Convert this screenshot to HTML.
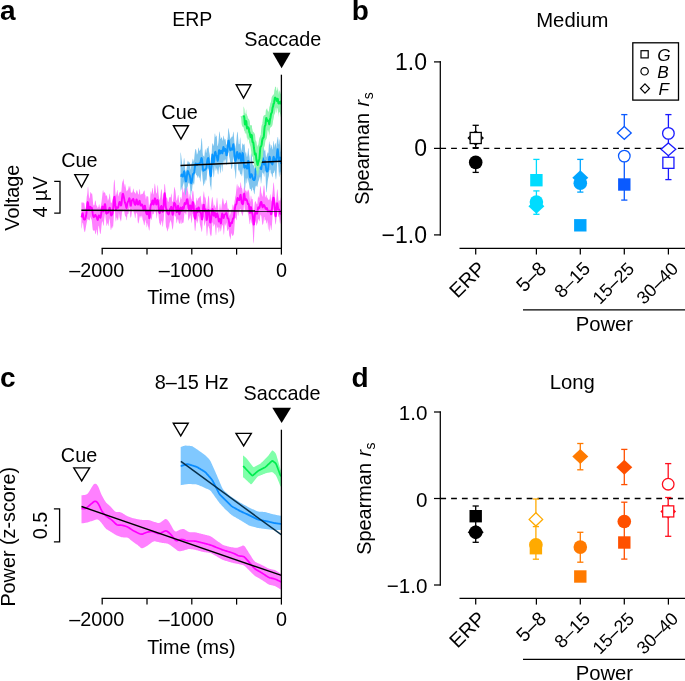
<!DOCTYPE html>
<html><head><meta charset="utf-8"><style>
html,body{margin:0;padding:0;background:#fff;}
svg{display:block;font-family:"Liberation Sans", sans-serif;will-change:transform;}
</style></head><body>
<svg width="685" height="681" viewBox="0 0 685 681">
<rect width="685" height="681" fill="#fff"/>
<text x="0" y="19.6" font-size="28" text-anchor="start" font-weight="bold" fill="#000">a</text>
<text x="192.2" y="26.1" font-size="19.5" text-anchor="middle" fill="#000">ERP</text>
<text x="282.7" y="46.2" font-size="19.8" text-anchor="middle" fill="#000">Saccade</text>
<polygon points="272.60,52.80 290.60,52.80 281.60,68.20" fill="#000" stroke="none" stroke-width="1.2"/>
<text x="79.4" y="167.4" font-size="19.8" text-anchor="middle" fill="#000">Cue</text>
<text x="179.5" y="119.1" font-size="19.8" text-anchor="middle" fill="#000">Cue</text>
<polygon points="81.40,202.07 81.73,202.60 82.07,203.35 82.40,203.05 82.74,201.99 83.07,201.78 83.41,202.79 83.74,203.34 84.08,202.88 84.41,203.51 84.74,206.39 85.08,209.16 85.41,208.61 85.75,207.48 86.08,204.66 86.42,200.71 86.75,196.65 87.09,194.94 87.42,192.56 87.75,187.51 88.09,186.60 88.42,189.57 88.76,194.20 89.09,197.75 89.43,198.72 89.76,197.12 90.10,194.19 90.43,192.05 90.76,192.12 91.10,193.41 91.43,193.85 91.77,193.28 92.10,193.57 92.44,195.97 92.77,199.96 93.11,203.83 93.44,205.49 93.77,205.46 94.11,204.71 94.44,205.43 94.78,202.37 95.11,200.46 95.45,200.45 95.78,201.64 96.12,203.90 96.45,206.32 96.78,205.12 97.12,205.96 97.45,207.51 97.79,207.99 98.12,207.32 98.46,206.98 98.79,204.88 99.13,203.92 99.46,205.08 99.79,207.10 100.13,208.55 100.46,208.30 100.80,206.41 101.13,204.03 101.47,201.90 101.80,199.49 102.14,196.85 102.47,193.80 102.80,190.86 103.14,190.04 103.47,191.63 103.81,193.13 104.14,192.75 104.48,191.87 104.81,192.42 105.15,193.03 105.48,194.07 105.81,196.03 106.15,196.32 106.48,195.27 106.82,195.09 107.15,196.59 107.49,198.81 107.82,200.71 108.16,200.59 108.49,199.16 108.82,198.61 109.16,196.65 109.49,194.09 109.83,193.60 110.16,196.17 110.50,200.12 110.83,202.67 111.17,203.15 111.50,202.82 111.83,202.26 112.17,200.88 112.50,199.04 112.84,198.48 113.17,196.48 113.51,188.25 113.84,182.62 114.18,179.88 114.51,179.59 114.84,182.68 115.18,188.56 115.51,193.68 115.85,195.43 116.18,194.68 116.52,193.27 116.85,191.63 117.19,190.07 117.52,190.22 117.85,192.94 118.19,196.44 118.52,195.75 118.86,193.95 119.19,193.22 119.53,191.69 119.86,192.73 120.20,191.67 120.53,191.50 120.86,192.30 121.20,192.12 121.53,189.64 121.87,185.44 122.20,181.53 122.54,180.60 122.87,183.25 123.21,179.66 123.54,178.62 123.87,181.31 124.21,187.47 124.54,184.74 124.88,183.60 125.21,184.58 125.55,186.36 125.88,188.24 126.22,190.07 126.55,191.30 126.88,191.32 127.22,190.65 127.55,190.10 127.89,189.83 128.22,189.16 128.56,187.42 128.89,185.64 129.23,186.63 129.56,188.63 129.89,185.63 130.23,186.16 130.56,189.49 130.90,192.59 131.23,193.33 131.57,192.46 131.90,192.10 132.24,192.77 132.57,191.79 132.91,190.20 133.24,188.72 133.57,188.58 133.91,190.98 134.24,193.07 134.58,191.71 134.91,192.03 135.25,193.37 135.58,193.81 135.92,193.13 136.25,191.47 136.58,190.51 136.92,189.91 137.25,190.66 137.59,191.92 137.92,193.16 138.26,194.31 138.59,194.68 138.93,193.17 139.26,190.64 139.59,188.70 139.93,189.76 140.26,193.92 140.60,195.51 140.93,193.81 141.27,193.63 141.60,194.61 141.94,194.32 142.27,193.91 142.60,193.73 142.94,193.28 143.27,192.45 143.61,191.57 143.94,190.73 144.28,190.19 144.61,191.31 144.95,194.96 145.28,194.51 145.61,197.11 145.95,199.83 146.28,197.27 146.62,196.05 146.95,196.21 147.29,196.62 147.62,196.40 147.96,195.91 148.29,197.18 148.62,201.37 148.96,206.80 149.29,207.81 149.63,206.55 149.96,202.09 150.30,196.12 150.63,191.88 150.97,191.16 151.30,193.05 151.63,194.29 151.97,190.47 152.30,187.94 152.64,188.12 152.97,190.66 153.31,193.80 153.64,194.81 153.98,191.89 154.31,186.89 154.64,183.69 154.98,183.81 155.31,185.91 155.65,188.73 155.98,191.63 156.32,193.49 156.65,193.47 156.99,192.03 157.32,187.63 157.65,184.63 157.99,185.93 158.32,191.41 158.66,195.05 158.99,197.24 159.33,199.61 159.66,200.11 160.00,198.86 160.33,196.68 160.66,193.82 161.00,190.88 161.33,189.04 161.67,189.62 162.00,192.90 162.34,197.14 162.67,199.63 163.01,199.20 163.34,196.89 163.67,194.11 164.01,190.78 164.34,184.96 164.68,183.75 165.01,184.53 165.35,188.36 165.68,192.14 166.02,194.62 166.35,197.57 166.68,197.82 167.02,197.63 167.35,199.04 167.69,200.66 168.02,201.89 168.36,202.05 168.69,200.40 169.03,198.00 169.36,197.00 169.69,197.42 170.03,197.56 170.36,197.11 170.70,197.46 171.03,195.07 171.37,192.95 171.70,195.03 172.04,200.65 172.37,202.03 172.70,201.67 173.04,200.38 173.37,197.89 173.71,193.79 174.04,189.17 174.38,186.75 174.71,187.42 175.05,189.21 175.38,190.87 175.71,193.50 176.05,197.30 176.38,200.15 176.72,200.83 177.05,200.12 177.39,198.61 177.72,196.63 178.06,194.85 178.39,195.34 178.72,197.99 179.06,201.17 179.39,203.10 179.73,202.63 180.06,200.34 180.40,198.08 180.73,196.94 181.07,197.21 181.40,199.27 181.73,198.98 182.07,193.15 182.40,187.49 182.74,186.12 183.07,188.94 183.41,192.14 183.74,192.67 184.08,190.72 184.41,188.66 184.74,187.98 185.08,188.08 185.41,188.09 185.75,188.17 186.08,188.57 186.42,188.38 186.75,187.09 187.09,186.22 187.42,187.81 187.75,190.76 188.09,191.69 188.42,194.47 188.76,198.61 189.09,197.81 189.43,195.49 189.76,193.82 190.10,193.77 190.43,195.26 190.76,196.11 191.10,198.61 191.43,199.96 191.77,198.36 192.10,194.82 192.44,191.56 192.77,190.22 193.11,190.76 193.44,192.30 193.77,195.44 194.11,200.93 194.44,202.58 194.78,203.83 195.11,205.20 195.45,205.45 195.78,203.98 196.12,201.32 196.45,198.67 196.78,197.45 197.12,198.81 197.45,200.68 197.79,200.71 198.12,198.86 198.46,197.73 198.79,198.28 199.13,197.65 199.46,197.33 199.79,196.79 200.13,195.99 200.46,195.80 200.80,197.36 201.13,200.49 201.47,203.37 201.80,204.55 202.14,204.41 202.47,204.05 202.80,201.72 203.14,196.01 203.47,193.69 203.81,191.00 204.14,192.45 204.48,195.75 204.81,197.51 205.15,197.30 205.48,197.76 205.81,199.64 206.15,201.74 206.48,205.84 206.82,208.63 207.15,207.60 207.49,203.63 207.82,199.72 208.16,197.28 208.49,195.79 208.82,195.66 209.16,198.64 209.49,204.96 209.83,209.25 210.16,209.29 210.50,208.52 210.83,206.76 211.17,204.44 211.50,201.56 211.83,198.45 212.17,196.68 212.50,197.58 212.84,199.84 213.17,202.24 213.51,205.01 213.84,206.50 214.18,205.92 214.51,204.46 214.84,204.79 215.18,206.40 215.51,208.01 215.85,207.63 216.18,204.92 216.52,200.76 216.85,197.67 217.19,197.79 217.52,201.04 217.85,205.25 218.19,208.58 218.52,211.01 218.86,212.32 219.19,210.49 219.53,206.49 219.86,203.62 220.20,204.15 220.53,207.16 220.86,209.68 221.20,209.49 221.53,206.96 221.87,203.75 222.20,200.80 222.54,198.67 222.87,197.94 223.21,198.79 223.54,200.84 223.87,203.32 224.21,204.75 224.54,204.46 224.88,203.42 225.21,202.75 225.55,202.80 225.88,203.59 226.22,201.61 226.55,199.71 226.88,200.43 227.22,203.91 227.55,207.65 227.89,208.97 228.22,208.85 228.56,208.39 228.89,209.27 229.23,211.82 229.56,215.37 229.89,215.85 230.23,214.36 230.56,213.02 230.90,211.10 231.23,209.29 231.57,209.03 231.90,210.89 232.24,209.02 232.57,204.51 232.91,204.40 233.24,207.80 233.57,205.69 233.91,204.94 234.24,203.46 234.58,201.04 234.91,199.43 235.25,196.66 235.58,196.00 235.92,193.61 236.25,189.99 236.58,186.79 236.92,184.37 237.25,183.93 237.59,186.23 237.92,189.57 238.26,186.64 238.59,185.34 238.93,186.29 239.26,187.78 239.59,187.81 239.93,187.12 240.26,184.89 240.60,181.98 240.93,182.91 241.27,185.95 241.60,187.88 241.94,188.09 242.27,189.00 242.60,191.74 242.94,194.25 243.27,194.12 243.61,190.10 243.94,187.29 244.28,185.28 244.61,185.74 244.95,188.15 245.28,190.36 245.61,190.91 245.95,190.46 246.28,190.50 246.62,191.79 246.95,192.81 247.29,191.80 247.62,190.87 247.96,189.72 248.29,189.54 248.62,190.39 248.96,191.32 249.29,193.37 249.63,197.36 249.96,200.96 250.30,201.74 250.63,197.02 250.97,195.28 251.30,196.81 251.63,199.04 251.97,199.55 252.30,198.75 252.64,199.10 252.97,202.29 253.31,207.80 253.64,213.29 253.98,211.15 254.31,207.22 254.64,203.60 254.98,201.55 255.31,201.09 255.65,201.49 255.98,202.23 256.32,203.19 256.65,204.02 256.99,204.43 257.32,204.05 257.65,200.19 257.99,197.01 258.32,196.12 258.66,197.19 258.99,198.34 259.33,197.22 259.66,193.05 260.00,188.19 260.33,185.72 260.66,186.71 261.00,189.92 261.33,192.77 261.67,193.78 262.00,195.13 262.34,197.08 262.67,195.18 263.01,192.45 263.34,189.45 263.67,186.36 264.01,184.91 264.34,186.44 264.68,189.89 265.01,193.66 265.35,197.41 265.68,196.89 266.02,195.43 266.35,194.83 266.68,195.64 267.02,198.43 267.35,197.21 267.69,197.68 268.02,199.43 268.36,200.29 268.69,199.58 269.03,198.95 269.36,200.05 269.69,198.40 270.03,194.70 270.36,193.97 270.70,197.15 271.03,200.87 271.37,201.38 271.70,198.92 272.04,196.23 272.37,194.07 272.70,191.07 273.04,186.85 273.37,183.08 273.71,182.14 274.04,184.87 274.38,189.44 274.71,193.85 275.05,198.09 275.38,201.85 275.71,203.50 276.05,202.13 276.38,198.32 276.72,193.55 277.05,189.86 277.39,189.22 277.72,191.80 278.06,195.77 278.39,199.57 278.72,201.74 279.06,199.93 279.39,200.12 279.73,201.36 280.06,201.47 280.40,199.95 280.73,198.04 281.07,196.90 281.40,196.61 281.40,219.46 281.07,219.35 280.73,220.19 280.40,223.16 280.06,224.03 279.73,222.11 279.39,218.75 279.06,216.76 278.72,217.02 278.39,216.46 278.06,215.58 277.72,212.80 277.39,211.66 277.05,212.02 276.72,214.56 276.38,218.76 276.05,222.53 275.71,224.43 275.38,224.16 275.05,221.57 274.71,217.36 274.38,216.40 274.04,214.90 273.71,211.52 273.37,208.35 273.04,212.13 272.70,213.48 272.37,218.52 272.04,223.88 271.70,227.72 271.37,230.21 271.03,230.00 270.70,225.89 270.36,224.43 270.03,229.49 269.69,232.61 269.36,229.86 269.03,222.02 268.69,225.56 268.36,230.12 268.02,229.08 267.69,222.97 267.35,219.74 267.02,222.60 266.68,223.73 266.35,223.09 266.02,221.08 265.68,219.46 265.35,219.71 265.01,220.88 264.68,220.39 264.34,217.07 264.01,217.00 263.67,220.88 263.34,223.17 263.01,224.16 262.67,224.85 262.34,224.66 262.00,222.26 261.67,218.71 261.33,216.33 261.00,215.16 260.66,214.41 260.33,215.43 260.00,217.86 259.66,220.77 259.33,221.57 258.99,220.35 258.66,219.05 258.32,219.33 257.99,221.22 257.65,223.19 257.32,223.46 256.99,224.58 256.65,226.02 256.32,225.03 255.98,223.06 255.65,221.43 255.31,220.43 254.98,223.76 254.64,226.83 254.31,231.74 253.98,239.65 253.64,243.82 253.31,242.04 252.97,235.50 252.64,228.43 252.30,224.45 251.97,223.49 251.63,223.10 251.30,221.64 250.97,219.70 250.63,219.01 250.30,221.55 249.96,224.37 249.63,223.95 249.29,221.42 248.96,218.63 248.62,216.34 248.29,214.72 247.96,213.62 247.62,211.86 247.29,210.63 246.95,210.28 246.62,210.40 246.28,210.81 245.95,211.01 245.61,210.03 245.28,209.83 244.95,210.72 244.61,207.26 244.28,202.94 243.94,205.53 243.61,209.34 243.27,212.76 242.94,214.21 242.60,215.85 242.27,215.95 241.94,214.47 241.60,213.39 241.27,212.46 240.93,210.01 240.60,208.46 240.26,209.13 239.93,210.39 239.59,210.43 239.26,208.99 238.93,210.64 238.59,213.68 238.26,216.07 237.92,215.76 237.59,212.01 237.25,210.19 236.92,217.34 236.58,220.52 236.25,219.95 235.92,218.45 235.58,217.77 235.25,217.65 234.91,220.24 234.58,224.89 234.24,229.83 233.91,233.41 233.57,234.79 233.24,235.22 232.91,235.82 232.57,236.12 232.24,235.58 231.90,234.38 231.57,233.22 231.23,233.84 230.90,236.92 230.56,239.78 230.23,239.09 229.89,235.59 229.56,237.74 229.23,235.13 228.89,230.96 228.56,228.89 228.22,229.13 227.89,230.31 227.55,231.35 227.22,230.73 226.88,227.72 226.55,224.16 226.22,222.61 225.88,223.63 225.55,225.43 225.21,225.66 224.88,223.18 224.54,226.82 224.21,232.57 223.87,235.26 223.54,233.21 223.21,228.98 222.87,226.05 222.54,225.00 222.20,225.06 221.87,226.15 221.53,228.06 221.20,230.03 220.86,231.62 220.53,231.18 220.20,228.81 219.86,227.10 219.53,228.41 219.19,231.54 218.86,232.97 218.52,230.97 218.19,226.82 217.85,227.35 217.52,228.19 217.19,227.49 216.85,224.44 216.52,229.55 216.18,234.83 215.85,235.24 215.51,231.64 215.18,227.26 214.84,224.72 214.51,224.17 214.18,224.25 213.84,226.49 213.51,225.89 213.17,223.77 212.84,222.57 212.50,222.56 212.17,225.56 211.83,230.86 211.50,235.29 211.17,236.26 210.83,233.96 210.50,235.21 210.16,237.11 209.83,232.61 209.49,228.82 209.16,228.34 208.82,227.18 208.49,225.89 208.16,225.74 207.82,227.96 207.49,232.13 207.15,235.83 206.82,235.99 206.48,231.49 206.15,226.01 205.81,222.23 205.48,220.45 205.15,222.97 204.81,225.45 204.48,225.92 204.14,223.79 203.81,220.16 203.47,217.23 203.14,216.99 202.80,219.97 202.47,225.97 202.14,230.57 201.80,232.18 201.47,231.06 201.13,229.25 200.80,227.81 200.46,226.56 200.13,225.14 199.79,223.10 199.46,220.29 199.13,217.59 198.79,215.80 198.46,216.66 198.12,220.36 197.79,223.51 197.45,222.49 197.12,220.72 196.78,220.61 196.45,220.84 196.12,223.17 195.78,226.89 195.45,229.99 195.11,231.33 194.78,230.16 194.44,226.36 194.11,221.54 193.77,218.06 193.44,216.91 193.11,216.31 192.77,213.88 192.44,213.73 192.10,220.49 191.77,223.62 191.43,222.03 191.10,219.76 190.76,218.36 190.43,215.63 190.10,215.20 189.76,217.33 189.43,218.70 189.09,218.63 188.76,220.76 188.42,220.35 188.09,217.54 187.75,213.20 187.42,209.23 187.09,209.08 186.75,210.33 186.42,213.56 186.08,215.04 185.75,214.61 185.41,213.35 185.08,213.21 184.74,212.70 184.41,212.94 184.08,216.61 183.74,220.61 183.41,222.70 183.07,222.83 182.74,222.51 182.40,222.74 182.07,223.58 181.73,224.28 181.40,222.98 181.07,218.84 180.73,220.92 180.40,223.44 180.06,223.59 179.73,222.94 179.39,224.12 179.06,223.72 178.72,222.21 178.39,220.57 178.06,219.34 177.72,218.99 177.39,219.89 177.05,221.99 176.72,223.50 176.38,221.92 176.05,218.19 175.71,215.95 175.38,216.28 175.05,216.79 174.71,215.52 174.38,213.26 174.04,216.84 173.71,221.27 173.37,225.00 173.04,227.73 172.70,229.57 172.37,229.59 172.04,227.53 171.70,224.85 171.37,222.83 171.03,221.54 170.70,220.36 170.36,220.52 170.03,222.59 169.69,222.58 169.36,224.92 169.03,229.05 168.69,229.35 168.36,225.96 168.02,228.96 167.69,231.13 167.35,231.44 167.02,230.03 166.68,228.31 166.35,227.67 166.02,226.81 165.68,222.53 165.35,214.42 165.01,207.55 164.68,207.39 164.34,210.54 164.01,215.59 163.67,219.97 163.34,221.73 163.01,225.48 162.67,227.32 162.34,225.44 162.00,220.84 161.67,220.89 161.33,222.38 161.00,223.62 160.66,224.73 160.33,225.49 160.00,224.81 159.66,223.24 159.33,223.00 158.99,219.97 158.66,217.17 158.32,213.71 157.99,210.45 157.65,210.57 157.32,213.64 156.99,217.53 156.65,219.07 156.32,216.09 155.98,213.39 155.65,212.48 155.31,208.20 154.98,210.06 154.64,211.23 154.31,211.42 153.98,212.63 153.64,214.27 153.31,214.31 152.97,213.87 152.64,213.87 152.30,215.33 151.97,218.25 151.63,220.28 151.30,219.45 150.97,217.13 150.63,216.71 150.30,219.84 149.96,224.79 149.63,228.89 149.29,230.79 148.96,230.33 148.62,228.36 148.29,226.76 147.96,226.26 147.62,224.86 147.29,223.02 146.95,227.60 146.62,227.09 146.28,222.95 145.95,222.84 145.61,220.84 145.28,219.59 144.95,222.08 144.61,224.38 144.28,225.44 143.94,224.79 143.61,222.80 143.27,221.10 142.94,220.49 142.60,219.50 142.27,217.28 141.94,215.54 141.60,215.91 141.27,217.53 140.93,218.26 140.60,217.06 140.26,215.92 139.93,216.10 139.59,217.29 139.26,219.38 138.93,221.43 138.59,222.90 138.26,223.55 137.92,223.05 137.59,220.25 137.25,214.51 136.92,213.82 136.58,213.34 136.25,212.38 135.92,213.79 135.58,216.97 135.25,218.53 134.91,217.43 134.58,214.99 134.24,213.55 133.91,213.32 133.57,211.40 133.24,209.35 132.91,208.80 132.57,209.38 132.24,209.89 131.90,212.00 131.57,214.43 131.23,216.39 130.90,217.55 130.56,217.68 130.23,215.95 129.89,211.93 129.56,207.87 129.23,207.49 128.89,209.94 128.56,213.08 128.22,214.22 127.89,213.77 127.55,213.96 127.22,216.37 126.88,219.66 126.55,220.48 126.22,217.24 125.88,216.18 125.55,216.68 125.21,216.03 124.88,214.97 124.54,213.33 124.21,211.08 123.87,209.52 123.54,209.63 123.21,210.52 122.87,210.94 122.54,211.09 122.20,211.87 121.87,213.86 121.53,217.10 121.20,220.42 120.86,221.67 120.53,220.55 120.20,219.21 119.86,218.50 119.53,216.93 119.19,214.21 118.86,213.12 118.52,217.09 118.19,219.46 117.85,220.41 117.52,220.06 117.19,218.85 116.85,217.57 116.52,217.71 116.18,220.48 115.85,221.79 115.51,219.39 115.18,214.27 114.84,209.62 114.51,208.02 114.18,210.17 113.84,215.26 113.51,221.41 113.17,226.33 112.84,228.41 112.50,227.61 112.17,225.74 111.83,227.41 111.50,228.35 111.17,229.82 110.83,230.36 110.50,228.01 110.16,223.88 109.83,220.32 109.49,218.10 109.16,220.27 108.82,223.35 108.49,225.65 108.16,225.95 107.82,224.29 107.49,222.89 107.15,223.70 106.82,225.85 106.48,225.98 106.15,221.85 105.81,220.07 105.48,217.16 105.15,212.36 104.81,214.85 104.48,217.59 104.14,220.60 103.81,224.04 103.47,226.01 103.14,225.16 102.80,222.81 102.47,221.30 102.14,221.57 101.80,223.30 101.47,226.16 101.13,229.71 100.80,232.86 100.46,234.28 100.13,233.65 99.79,231.93 99.46,230.01 99.13,227.84 98.79,225.87 98.46,226.12 98.12,229.83 97.79,234.43 97.45,236.03 97.12,233.75 96.78,229.72 96.45,229.65 96.12,232.45 95.78,234.11 95.45,234.14 95.11,232.67 94.78,230.96 94.44,230.30 94.11,230.53 93.77,230.63 93.44,230.48 93.11,230.39 92.77,229.67 92.44,227.20 92.10,223.46 91.77,220.42 91.43,219.16 91.10,218.91 90.76,217.79 90.43,216.43 90.10,218.31 89.76,220.04 89.43,220.62 89.09,220.29 88.76,219.86 88.42,219.81 88.09,219.56 87.75,219.06 87.42,219.50 87.09,220.95 86.75,222.50 86.42,224.15 86.08,226.03 85.75,227.93 85.41,229.93 85.08,231.72 84.74,232.37 84.41,231.55 84.08,230.15 83.74,228.54 83.41,225.74 83.07,223.57 82.74,222.58 82.40,223.34 82.07,225.82 81.73,228.08 81.40,228.85" fill="#ff80ff" stroke="none" stroke-width="1.2"/>
<polyline points="81.40,217.36 81.73,216.63 82.07,214.92 82.40,213.42 82.74,213.32 83.07,214.95 83.41,217.36 83.74,219.07 84.08,219.56 84.41,219.55 84.74,219.56 85.08,219.27 85.41,218.36 85.75,217.17 86.08,215.78 86.42,213.61 86.75,210.24 87.09,206.35 87.42,203.26 87.75,202.05 88.09,203.02 88.42,205.56 88.76,208.47 89.09,210.30 89.43,210.06 89.76,208.25 90.10,206.75 90.43,206.85 90.76,207.83 91.10,208.21 91.43,207.83 91.77,207.82 92.10,209.10 92.44,211.45 92.77,213.93 93.11,215.78 93.44,216.84 93.77,217.16 94.11,216.85 94.44,216.17 94.78,215.41 95.11,214.88 95.45,214.98 95.78,215.70 96.12,216.42 96.45,216.87 96.78,217.44 97.12,218.52 97.45,219.72 97.79,219.96 98.12,218.62 98.46,216.59 98.79,215.37 99.13,215.40 99.46,216.11 99.79,216.96 100.13,217.67 100.46,217.75 100.80,216.59 101.13,214.22 101.47,211.42 101.80,208.90 102.14,207.09 102.47,206.54 102.80,207.72 103.14,209.96 103.47,211.44 103.81,210.73 104.14,208.27 104.48,205.66 104.81,204.14 105.15,204.39 105.48,206.69 105.81,210.21 106.15,213.00 106.48,213.71 106.82,212.93 107.15,212.32 107.49,212.57 107.82,212.90 108.16,212.53 108.49,211.54 108.82,210.34 109.16,209.00 109.49,207.83 109.83,207.68 110.16,209.15 110.50,211.81 110.83,214.29 111.17,215.51 111.50,215.44 111.83,214.86 112.17,214.27 112.50,213.37 112.84,211.52 113.17,208.41 113.51,204.40 113.84,200.32 114.18,197.34 114.51,196.81 114.84,199.23 115.18,203.60 115.51,207.70 115.85,209.57 116.18,209.08 116.52,207.88 116.85,207.36 117.19,207.54 117.52,207.85 117.85,207.93 118.19,207.44 118.52,206.12 118.86,204.32 119.19,202.78 119.53,201.94 119.86,201.96 120.20,202.88 120.53,204.39 120.86,205.56 121.20,205.33 121.53,203.28 121.87,199.97 122.20,196.55 122.54,194.25 122.87,193.66 123.21,194.40 123.54,195.70 123.87,197.22 124.21,198.94 124.54,200.77 124.88,202.33 125.21,203.36 125.55,204.22 125.88,205.65 126.22,207.37 126.55,207.95 126.88,206.57 127.22,204.19 127.55,202.43 127.89,201.86 128.22,201.71 128.56,200.92 128.89,199.42 129.23,198.19 129.56,198.44 129.89,200.54 130.23,203.49 130.56,205.56 130.90,205.66 131.23,204.04 131.57,201.93 131.90,200.50 132.24,199.98 132.57,199.74 132.91,199.26 133.24,198.87 133.57,199.45 133.91,201.14 134.24,202.89 134.58,203.90 134.91,204.49 135.25,204.87 135.58,204.31 135.92,202.47 136.25,200.35 136.58,199.44 136.92,200.34 137.25,202.34 137.59,204.02 137.92,204.61 138.26,204.30 138.59,203.44 138.93,202.19 139.26,201.00 139.59,200.81 139.93,202.11 140.26,204.11 140.60,205.44 140.93,205.52 141.27,204.87 141.60,204.34 141.94,204.42 142.27,205.03 142.60,205.98 142.94,207.41 143.27,209.19 143.61,210.34 143.94,209.75 144.28,207.61 144.61,205.67 144.95,205.69 145.28,207.61 145.61,209.98 145.95,211.80 146.28,213.10 146.62,214.05 146.95,214.32 147.29,213.68 147.62,212.52 147.96,211.61 148.29,211.78 148.62,213.49 148.96,216.21 149.29,218.27 149.63,217.73 149.96,214.03 150.30,208.99 150.63,205.39 150.97,204.33 151.30,204.62 151.63,204.39 151.97,202.80 152.30,200.88 152.64,200.46 152.97,202.01 153.31,203.92 153.64,204.40 153.98,203.05 154.31,200.84 154.64,199.04 154.98,198.34 155.31,198.93 155.65,200.76 155.98,203.09 156.32,204.50 156.65,204.03 156.99,202.18 157.32,200.41 157.65,199.96 157.99,201.13 158.32,203.56 158.66,206.74 158.99,210.05 159.33,212.48 159.66,213.16 160.00,212.19 160.33,210.35 160.66,208.26 161.00,206.48 161.33,205.92 161.67,207.05 162.00,209.10 162.34,210.88 162.67,211.80 163.01,211.54 163.34,209.41 163.67,205.11 164.01,199.64 164.34,195.02 164.68,193.27 165.01,195.50 165.35,200.61 165.68,205.56 166.02,208.08 166.35,208.87 166.68,209.87 167.02,211.51 167.35,212.82 167.69,213.33 168.02,213.66 168.36,214.18 168.69,214.38 169.03,213.49 169.36,211.69 169.69,209.97 170.03,209.03 170.36,208.55 170.70,207.85 171.03,206.94 171.37,206.70 171.70,207.99 172.04,210.78 172.37,213.69 172.70,214.84 173.04,213.33 173.37,209.83 173.71,205.91 174.04,203.28 174.38,202.67 174.71,203.20 175.05,203.70 175.38,204.33 175.71,205.90 176.05,208.45 176.38,210.91 176.72,212.19 177.05,211.82 177.39,209.87 177.72,207.21 178.06,205.71 178.39,206.94 178.72,210.29 179.06,213.39 179.39,214.31 179.73,213.01 180.06,210.65 180.40,208.51 180.73,207.58 181.07,208.22 181.40,209.79 181.73,210.71 182.07,209.93 182.40,208.12 182.74,207.08 183.07,207.69 183.41,208.77 183.74,208.46 184.08,206.41 184.41,204.06 184.74,203.04 185.08,203.52 185.41,204.28 185.75,204.18 186.08,203.14 186.42,201.56 186.75,199.97 187.09,199.13 187.42,199.72 187.75,201.74 188.09,204.49 188.42,207.18 188.76,209.01 189.09,209.27 189.43,207.99 189.76,206.27 190.10,205.34 190.43,205.79 190.76,207.63 191.10,209.85 191.43,210.68 191.77,209.15 192.10,206.17 192.44,203.44 192.77,202.05 193.11,202.36 193.44,204.45 193.77,207.91 194.11,211.89 194.44,215.45 194.78,217.87 195.11,218.81 195.45,218.19 195.78,215.81 196.12,212.13 196.45,209.06 196.78,208.58 197.12,210.51 197.45,212.32 197.79,211.81 198.12,209.45 198.46,207.54 198.79,207.51 199.13,208.94 199.46,210.59 199.79,211.64 200.13,212.04 200.46,212.23 200.80,212.87 201.13,214.42 201.47,216.82 201.80,219.08 202.14,219.53 202.47,217.12 202.80,212.59 203.14,207.96 203.47,205.02 203.81,204.73 204.14,206.92 204.48,209.85 204.81,211.20 205.15,210.40 205.48,209.41 205.81,210.61 206.15,214.34 206.48,218.40 206.82,219.94 207.15,217.94 207.49,214.15 207.82,211.16 208.16,209.94 208.49,209.98 208.82,210.87 209.16,212.94 209.49,216.37 209.83,220.14 210.16,222.54 210.50,222.55 210.83,220.67 211.17,218.01 211.50,215.15 211.83,212.28 212.17,209.91 212.50,209.07 212.84,210.36 213.17,213.05 213.51,215.34 213.84,215.80 214.18,214.45 214.51,212.80 214.84,212.59 215.18,214.12 215.51,216.19 215.85,217.39 216.18,216.97 216.52,215.27 216.85,213.66 217.19,213.36 217.52,214.23 217.85,215.60 218.19,217.47 218.52,219.81 218.86,221.44 219.19,221.20 219.53,219.71 219.86,219.05 220.20,220.39 220.53,222.60 220.86,223.45 221.20,221.78 221.53,218.33 221.87,214.98 222.20,213.41 222.54,214.06 222.87,215.91 223.21,217.59 223.54,218.11 223.87,217.26 224.21,215.74 224.54,214.65 224.88,214.37 225.21,214.36 225.55,214.06 225.88,213.45 226.22,213.01 226.55,213.39 226.88,214.88 227.22,216.86 227.55,218.14 227.89,218.35 228.22,218.31 228.56,219.10 228.89,221.05 229.23,223.58 229.56,225.60 229.89,226.24 230.23,225.50 230.56,224.13 230.90,223.07 231.23,222.82 231.57,223.11 231.90,223.10 232.24,222.06 232.57,220.29 232.91,218.84 233.24,218.37 233.57,218.18 233.91,216.96 234.24,214.34 234.58,211.19 234.91,208.42 235.25,206.30 235.58,204.87 235.92,204.39 236.25,204.39 236.58,203.56 236.92,201.38 237.25,199.06 237.59,197.95 237.92,198.20 238.26,198.98 238.59,199.65 238.93,200.10 239.26,200.14 239.59,199.24 239.93,197.29 240.26,195.21 240.60,194.69 240.93,196.55 241.27,199.66 241.60,202.09 241.94,203.22 242.27,203.76 242.60,204.23 242.94,203.90 243.27,201.61 243.61,197.63 243.94,194.19 244.28,193.55 244.61,195.80 244.95,198.69 245.28,199.99 245.61,199.59 245.95,199.06 246.28,199.27 246.62,199.77 246.95,200.36 247.29,201.53 247.62,203.13 247.96,204.12 248.29,204.02 248.62,203.88 248.96,205.35 249.29,208.73 249.63,212.08 249.96,212.96 250.30,210.93 250.63,208.13 250.97,207.09 251.30,208.45 251.63,210.85 251.97,212.64 252.30,213.65 252.64,215.03 252.97,217.88 253.31,221.73 253.64,224.56 253.98,224.44 254.31,221.38 254.64,217.23 254.98,213.85 255.31,211.87 255.65,211.13 255.98,211.41 256.32,212.41 256.65,213.49 256.99,213.76 257.32,212.68 257.65,210.56 257.99,208.42 258.32,207.29 258.66,207.39 258.99,208.01 259.33,208.07 259.66,207.08 260.00,205.41 260.33,203.76 260.66,202.54 261.00,201.86 261.33,201.92 261.67,203.04 262.00,205.03 262.34,206.81 262.67,207.36 263.01,206.67 263.34,205.59 263.67,204.96 264.01,205.01 264.34,205.48 264.68,206.14 265.01,207.04 265.35,208.13 265.68,208.92 266.02,208.99 266.35,208.48 266.68,208.00 267.02,208.30 267.35,209.54 267.69,210.95 268.02,211.53 268.36,211.18 268.69,210.76 269.03,210.96 269.36,211.37 269.69,211.19 270.03,210.67 270.36,211.09 270.70,212.85 271.03,214.43 271.37,214.01 271.70,211.51 272.04,208.24 272.37,205.04 272.70,201.97 273.04,199.29 273.37,197.72 273.71,197.84 274.04,199.91 274.38,203.59 274.71,207.87 275.05,211.83 275.38,214.93 275.71,216.23 276.05,214.66 276.38,210.48 276.72,205.84 277.05,203.21 277.39,203.55 277.72,205.84 278.06,208.20 278.39,209.41 278.72,209.50 279.06,209.52 279.39,210.47 279.73,212.26 280.06,213.74 280.40,213.87 280.73,212.66 281.07,211.15 281.40,210.48" fill="none" stroke="#ff00ff" stroke-width="1.9" stroke-linejoin="round"/>
<line x1="81.4" y1="210.3" x2="281.4" y2="211.0" stroke="#000" stroke-width="1.5"/>
<polygon points="180.50,152.16 180.84,153.03 181.17,155.26 181.51,158.23 181.84,161.34 182.18,164.06 182.51,166.29 182.85,167.67 183.18,166.68 183.52,162.82 183.85,158.79 184.19,157.68 184.52,160.60 184.86,166.57 185.19,169.16 185.53,171.44 185.86,172.80 186.20,170.82 186.53,169.02 186.87,166.30 187.20,163.48 187.54,161.69 187.87,160.55 188.21,161.26 188.55,161.86 188.88,162.87 189.22,162.75 189.55,162.13 189.89,162.32 190.22,164.88 190.56,169.65 190.89,168.56 191.23,166.05 191.56,163.80 191.90,162.69 192.23,161.43 192.57,159.49 192.90,158.54 193.24,159.42 193.57,160.81 193.91,161.95 194.24,158.58 194.58,154.77 194.91,151.77 195.25,149.85 195.58,149.05 195.92,149.04 196.26,150.22 196.59,152.66 196.93,154.64 197.26,154.03 197.60,153.36 197.93,151.69 198.27,148.45 198.60,147.31 198.94,148.75 199.27,150.28 199.61,151.08 199.94,150.63 200.28,149.48 200.61,149.58 200.95,144.81 201.28,140.16 201.62,137.67 201.95,139.01 202.29,144.63 202.62,152.45 202.96,154.94 203.29,155.86 203.63,156.23 203.97,156.17 204.30,157.09 204.64,153.95 204.97,150.10 205.31,148.67 205.64,150.62 205.98,152.90 206.31,152.56 206.65,150.07 206.98,148.09 207.32,148.02 207.65,148.66 207.99,146.35 208.32,145.83 208.66,147.61 208.99,151.29 209.33,152.86 209.66,154.50 210.00,156.71 210.33,159.90 210.67,163.13 211.00,163.95 211.34,160.42 211.68,153.34 212.01,146.36 212.35,143.69 212.68,143.18 213.02,143.81 213.35,145.32 213.69,145.96 214.02,143.62 214.36,138.42 214.69,133.90 215.03,133.34 215.36,135.58 215.70,137.19 216.03,136.66 216.37,135.27 216.70,136.00 217.04,140.36 217.37,146.03 217.71,145.91 218.04,144.60 218.38,142.47 218.71,138.86 219.05,134.53 219.39,131.56 219.72,131.81 220.06,135.02 220.39,138.77 220.73,139.26 221.06,137.82 221.40,137.59 221.73,137.35 222.07,138.21 222.40,140.21 222.74,140.69 223.07,138.20 223.41,135.52 223.74,135.88 224.08,137.91 224.41,139.12 224.75,140.11 225.08,139.37 225.42,138.89 225.75,140.90 226.09,143.43 226.42,145.25 226.76,144.35 227.10,143.45 227.43,138.74 227.77,136.75 228.10,130.73 228.44,127.85 228.77,128.96 229.11,131.60 229.44,133.23 229.78,134.93 230.11,138.86 230.45,139.08 230.78,137.61 231.12,137.77 231.45,137.19 231.79,136.44 232.12,136.80 232.46,136.79 232.79,134.91 233.13,132.29 233.46,131.56 233.80,133.98 234.13,138.38 234.47,143.04 234.80,147.67 235.14,148.87 235.48,146.76 235.81,145.27 236.15,143.24 236.48,139.65 236.82,135.57 237.15,132.57 237.49,131.56 237.82,133.21 238.16,137.59 238.49,142.44 238.83,144.53 239.16,143.90 239.50,144.16 239.83,139.81 240.17,136.90 240.50,139.97 240.84,147.44 241.17,151.20 241.51,149.87 241.84,148.07 242.18,145.11 242.51,142.88 242.85,143.74 243.19,144.92 243.52,144.79 243.86,143.98 244.19,143.48 244.53,144.39 244.86,147.34 245.20,151.80 245.53,154.02 245.87,151.74 246.20,152.71 246.54,155.20 246.87,156.99 247.21,156.55 247.54,154.16 247.88,151.10 248.21,147.81 248.55,148.73 248.88,153.61 249.22,155.32 249.55,157.29 249.89,160.91 250.22,166.26 250.56,159.66 250.90,154.47 251.23,152.88 251.57,153.51 251.90,156.01 252.24,160.30 252.57,163.88 252.91,164.93 253.24,164.83 253.58,165.21 253.91,166.06 254.25,167.85 254.58,169.31 254.92,164.69 255.25,161.34 255.59,159.81 255.92,156.55 256.26,152.14 256.59,151.19 256.93,151.86 257.26,153.31 257.60,150.76 257.93,150.71 258.27,155.06 258.61,151.60 258.94,148.02 259.28,148.41 259.61,150.93 259.95,147.99 260.28,150.51 260.62,151.37 260.95,152.22 261.29,152.90 261.62,151.54 261.96,149.16 262.29,147.80 262.63,146.80 262.96,144.53 263.30,142.36 263.63,143.45 263.97,147.65 264.30,150.92 264.64,150.80 264.97,149.45 265.31,150.40 265.64,153.92 265.98,156.99 266.32,157.37 266.65,156.04 266.99,154.87 267.32,153.87 267.66,152.59 267.99,152.22 268.33,153.59 268.66,148.59 269.00,142.50 269.33,141.05 269.67,144.47 270.00,144.13 270.34,144.61 270.67,148.87 271.01,147.68 271.34,145.11 271.68,144.98 272.01,147.03 272.35,149.44 272.68,149.27 273.02,145.65 273.35,141.58 273.69,140.71 274.03,143.65 274.36,148.06 274.70,145.56 275.03,143.52 275.37,143.04 275.70,143.83 276.04,145.82 276.37,148.38 276.71,143.37 277.04,140.39 277.38,138.73 277.71,137.01 278.05,137.07 278.38,140.27 278.72,144.12 279.05,144.66 279.39,141.26 279.72,138.51 280.06,140.97 280.39,146.88 280.73,151.23 281.06,152.37 281.40,152.29 281.40,175.51 281.06,175.59 280.73,174.72 280.39,172.42 280.06,171.13 279.72,173.09 279.39,176.58 279.05,177.03 278.72,172.13 278.38,166.98 278.05,163.62 277.71,160.43 277.38,160.68 277.04,165.03 276.71,171.56 276.37,177.08 276.04,179.46 275.70,178.88 275.37,176.22 275.03,172.45 274.70,170.12 274.36,170.90 274.03,172.74 273.69,173.09 273.35,172.71 273.02,173.63 272.68,175.90 272.35,177.42 272.01,176.52 271.68,174.27 271.34,173.34 271.01,173.71 270.67,172.50 270.34,169.55 270.00,170.06 269.67,169.99 269.33,171.79 269.00,174.85 268.66,176.72 268.33,177.71 267.99,179.40 267.66,181.90 267.32,184.92 266.99,188.71 266.65,192.22 266.32,192.20 265.98,186.42 265.64,177.39 265.31,170.70 264.97,170.87 264.64,173.24 264.30,176.87 263.97,176.58 263.63,173.48 263.30,173.84 262.96,173.08 262.63,172.28 262.29,173.19 261.96,176.20 261.62,179.38 261.29,182.69 260.95,183.93 260.62,180.11 260.28,176.72 259.95,177.03 259.61,177.57 259.28,178.67 258.94,179.99 258.61,180.91 258.27,181.79 257.93,183.45 257.60,185.60 257.26,187.00 256.93,186.89 256.59,185.96 256.26,185.46 255.92,185.75 255.59,186.57 255.25,188.06 254.92,190.75 254.58,193.58 254.25,194.53 253.91,193.09 253.58,190.44 253.24,190.01 252.91,189.91 252.57,187.78 252.24,187.26 251.90,189.95 251.57,191.60 251.23,191.08 250.90,189.55 250.56,188.64 250.22,188.92 249.89,189.11 249.55,187.60 249.22,185.05 248.88,183.21 248.55,181.92 248.21,180.26 247.88,178.66 247.54,177.50 247.21,180.75 246.87,183.73 246.54,182.80 246.20,178.45 245.87,178.24 245.53,183.59 245.20,187.84 244.86,189.91 244.53,188.30 244.19,183.14 243.86,176.28 243.52,170.71 243.19,167.71 242.85,168.87 242.51,172.36 242.18,175.53 241.84,176.41 241.51,175.41 241.17,173.71 240.84,174.56 240.50,174.46 240.17,173.63 239.83,172.34 239.50,171.32 239.16,170.01 238.83,169.78 238.49,171.58 238.16,169.09 237.82,164.37 237.49,163.58 237.15,163.08 236.82,162.24 236.48,167.13 236.15,175.44 235.81,179.55 235.48,177.27 235.14,172.80 234.80,170.42 234.47,168.80 234.13,164.93 233.80,159.52 233.46,156.36 233.13,157.65 232.79,161.64 232.46,165.38 232.12,167.73 231.79,168.98 231.45,169.12 231.12,167.46 230.78,164.17 230.45,161.52 230.11,162.32 229.78,159.15 229.44,157.71 229.11,156.15 228.77,153.47 228.44,151.93 228.10,152.67 227.77,155.70 227.43,160.47 227.10,163.44 226.76,163.78 226.42,165.56 226.09,164.48 225.75,161.61 225.42,159.44 225.08,159.26 224.75,159.89 224.41,161.56 224.08,163.22 223.74,163.22 223.41,161.68 223.07,159.64 222.74,166.28 222.40,171.40 222.07,171.41 221.73,167.75 221.40,162.66 221.06,166.93 220.73,172.00 220.39,173.72 220.06,171.80 219.72,168.56 219.39,166.52 219.05,167.12 218.71,170.24 218.38,173.69 218.04,174.86 217.71,173.33 217.37,170.62 217.04,168.88 216.70,167.93 216.37,169.46 216.03,171.10 215.70,170.61 215.36,168.13 215.03,165.82 214.69,166.61 214.36,172.41 214.02,176.63 213.69,177.52 213.35,174.44 213.02,170.50 212.68,167.64 212.35,164.89 212.01,170.72 211.68,180.39 211.34,188.61 211.00,190.98 210.67,187.07 210.33,186.17 210.00,184.50 209.66,179.48 209.33,174.12 208.99,170.41 208.66,168.82 208.32,168.77 207.99,168.42 207.65,168.46 207.32,170.72 206.98,174.76 206.65,178.64 206.31,180.78 205.98,180.61 205.64,178.92 205.31,181.46 204.97,184.24 204.64,183.92 204.30,180.03 203.97,184.54 203.63,186.56 203.29,185.03 202.96,182.04 202.62,179.01 202.29,175.35 201.95,170.83 201.62,169.88 201.28,172.52 200.95,176.03 200.61,180.31 200.28,182.32 199.94,180.27 199.61,177.46 199.27,177.43 198.94,178.12 198.60,175.53 198.27,175.70 197.93,178.02 197.60,177.53 197.26,176.13 196.93,175.39 196.59,175.32 196.26,175.20 195.92,174.29 195.58,173.00 195.25,173.10 194.91,175.61 194.58,179.75 194.24,183.80 193.91,185.17 193.57,182.83 193.24,183.66 192.90,184.55 192.57,184.78 192.23,188.21 191.90,191.23 191.56,190.60 191.23,194.12 190.89,196.70 190.56,194.33 190.22,189.47 189.89,185.46 189.55,183.46 189.22,183.36 188.88,183.83 188.55,182.54 188.21,182.91 187.87,185.79 187.54,187.03 187.20,187.27 186.87,188.34 186.53,189.98 186.20,191.87 185.86,194.38 185.53,195.71 185.19,195.04 184.86,191.86 184.52,186.76 184.19,182.71 183.85,182.05 183.52,183.39 183.18,184.53 182.85,185.70 182.51,187.05 182.18,188.84 181.84,189.92 181.51,189.37 181.17,186.42 180.84,190.06 180.50,192.08" fill="#7ec4ee" stroke="none" stroke-width="1.2"/>
<polyline points="180.50,175.65 180.84,175.80 181.17,175.65 181.51,174.83 181.84,174.41 182.18,175.22 182.51,176.41 182.85,176.61 183.18,175.52 183.52,173.65 183.85,171.84 184.19,171.18 184.52,172.49 184.86,175.38 185.19,178.49 185.53,180.65 185.86,181.53 186.20,181.11 186.53,179.26 186.87,176.19 187.20,173.07 187.54,171.23 187.87,170.97 188.21,171.60 188.55,172.53 188.88,173.53 189.22,174.44 189.55,175.18 189.89,176.07 190.22,177.83 190.56,180.45 190.89,182.59 191.23,183.15 191.56,182.42 191.90,181.00 192.23,178.84 192.57,176.27 192.90,174.33 193.24,173.68 193.57,173.72 193.91,173.33 194.24,171.88 194.58,169.51 194.91,166.91 195.25,164.81 195.58,163.63 195.92,163.43 196.26,163.95 196.59,164.74 196.93,165.10 197.26,164.67 197.60,163.97 197.93,163.69 198.27,163.87 198.60,164.11 198.94,164.05 199.27,163.65 199.61,163.21 199.94,162.98 200.28,162.63 200.61,161.56 200.95,159.85 201.28,158.40 201.62,157.93 201.95,158.94 202.29,161.73 202.62,165.66 202.96,169.08 203.29,170.70 203.63,170.57 203.97,169.84 204.30,169.60 204.64,169.87 204.97,169.94 205.31,169.56 205.64,169.11 205.98,168.77 206.31,167.80 206.65,165.55 206.98,162.64 207.32,160.31 207.65,158.97 207.99,158.22 208.32,158.09 208.66,159.16 208.99,161.75 209.33,165.29 209.66,168.89 210.00,172.10 210.33,174.80 210.67,176.42 211.00,175.67 211.34,171.48 211.68,164.57 212.01,157.83 212.35,154.49 212.68,155.53 213.02,158.96 213.35,161.86 213.69,162.75 214.02,161.56 214.36,158.63 214.69,154.95 215.03,152.29 215.36,151.87 215.70,153.04 216.03,154.30 216.37,155.08 216.70,156.10 217.04,157.87 217.37,159.85 217.71,160.87 218.04,160.00 218.38,156.97 218.71,152.93 219.05,150.17 219.39,150.22 219.72,152.12 220.06,153.51 220.39,153.19 220.73,151.89 221.06,150.81 221.40,150.64 221.73,151.54 222.07,152.92 222.40,153.30 222.74,151.57 223.07,148.67 223.41,146.96 223.74,147.66 224.08,149.66 224.41,150.89 224.75,150.48 225.08,149.30 225.42,148.97 225.75,150.49 226.09,153.24 226.42,155.32 226.76,155.14 227.10,152.82 227.43,149.57 227.77,146.15 228.10,142.89 228.44,140.68 228.77,140.58 229.11,142.56 229.44,145.50 229.78,148.23 230.11,149.96 230.45,150.26 230.78,149.40 231.12,148.46 231.45,148.42 231.79,149.17 232.12,149.63 232.46,148.83 232.79,146.76 233.13,144.60 233.46,144.14 233.80,146.49 234.13,150.97 234.47,155.59 234.80,158.85 235.14,160.57 235.48,161.06 235.81,160.25 236.15,158.00 236.48,155.02 236.82,152.67 237.15,151.90 237.49,152.86 237.82,154.98 238.16,157.19 238.49,158.45 238.83,158.12 239.16,156.38 239.50,154.29 239.83,153.27 240.17,154.15 240.50,156.72 240.84,159.80 241.17,161.68 241.51,161.21 241.84,158.52 242.18,155.14 242.51,153.04 242.85,153.43 243.19,156.20 243.52,160.23 243.86,164.15 244.19,166.82 244.53,167.71 244.86,167.23 245.20,166.33 245.53,165.79 245.87,165.76 246.20,166.22 246.54,167.32 246.87,168.60 247.21,168.58 247.54,166.28 247.88,162.89 248.21,160.85 248.55,161.67 248.88,165.06 249.22,169.65 249.55,174.08 249.89,177.04 250.22,177.65 250.56,176.47 250.90,175.02 251.23,174.24 251.57,174.21 251.90,174.86 252.24,176.13 252.57,177.59 252.91,178.76 253.24,179.50 253.58,179.93 253.91,180.09 254.25,180.09 254.58,179.81 254.92,178.56 255.25,175.70 255.59,171.70 255.92,168.01 256.26,165.76 256.59,164.92 256.93,164.66 257.26,164.48 257.60,164.79 257.93,165.98 258.27,167.40 258.61,168.02 258.94,167.40 259.28,165.63 259.61,163.37 259.95,162.09 260.28,163.17 260.62,166.24 260.95,169.02 261.29,169.19 261.62,166.47 261.96,162.60 262.29,159.54 262.63,158.14 262.96,158.35 263.30,159.98 263.63,162.45 263.97,164.43 264.30,164.62 264.64,163.03 264.97,161.24 265.31,161.29 265.64,163.81 265.98,167.36 266.32,169.98 266.65,171.13 266.99,171.49 267.32,171.56 267.66,170.99 267.99,169.31 268.33,166.49 268.66,162.96 269.00,159.46 269.33,157.12 269.67,156.77 270.00,158.09 270.34,159.95 270.67,161.52 271.01,162.53 271.34,162.99 271.68,163.29 272.01,163.93 272.35,164.38 272.68,163.23 273.02,160.25 273.35,157.40 273.69,156.75 274.03,158.15 274.36,159.70 274.70,160.02 275.03,159.50 275.37,159.34 275.70,160.01 276.04,160.65 276.37,159.93 276.71,157.21 277.04,153.27 277.38,149.99 277.71,149.13 278.05,151.27 278.38,155.38 278.72,159.30 279.05,160.85 279.39,159.73 279.72,157.84 280.06,157.42 280.39,159.00 280.73,161.42 281.06,163.22 281.40,163.83" fill="none" stroke="#0a96ff" stroke-width="1.9" stroke-linejoin="round"/>
<line x1="180.5" y1="165.4" x2="281.4" y2="161.3" stroke="#000" stroke-width="1.5"/>
<clipPath id="cg"><rect x="240" y="60" width="41.4" height="200"/></clipPath><g clip-path="url(#cg)">
<polygon points="243.50,106.33 243.75,107.04 244.01,107.43 244.26,108.46 244.51,109.24 244.76,113.61 245.02,112.46 245.27,113.50 245.52,114.93 245.77,112.12 246.03,109.32 246.28,110.22 246.53,114.34 246.78,115.86 247.04,115.88 247.29,116.07 247.54,118.19 247.80,116.90 248.05,118.54 248.30,119.63 248.55,118.39 248.81,119.54 249.06,119.03 249.31,123.63 249.56,120.36 249.82,121.54 250.07,125.61 250.32,127.17 250.57,124.88 250.83,125.14 251.08,125.34 251.33,125.31 251.59,125.61 251.84,124.65 252.09,128.34 252.34,131.63 252.60,132.80 252.85,128.69 253.10,131.78 253.35,133.95 253.61,135.91 253.86,136.44 254.11,139.21 254.36,140.06 254.62,143.33 254.87,142.61 255.12,142.88 255.38,141.30 255.63,140.70 255.88,143.01 256.13,146.32 256.39,150.15 256.64,150.52 256.89,151.89 257.14,151.70 257.40,155.74 257.65,151.35 257.90,150.51 258.15,153.26 258.41,151.23 258.66,150.59 258.91,150.86 259.17,147.55 259.42,148.07 259.67,146.77 259.92,141.67 260.18,137.57 260.43,134.57 260.68,135.25 260.93,136.62 261.19,136.77 261.44,133.76 261.69,132.25 261.94,132.03 262.20,131.81 262.45,128.21 262.70,127.61 262.96,124.17 263.21,125.75 263.46,128.56 263.71,126.96 263.97,123.75 264.22,121.28 264.47,119.21 264.72,117.15 264.98,116.02 265.23,116.20 265.48,115.07 265.73,111.41 265.99,109.46 266.24,108.54 266.49,108.92 266.75,110.35 267.00,108.12 267.25,108.85 267.50,111.11 267.76,110.04 268.01,111.35 268.26,111.14 268.51,112.22 268.77,112.51 269.02,113.33 269.27,113.26 269.52,114.02 269.78,111.57 270.03,110.81 270.28,105.78 270.54,106.33 270.79,105.18 271.04,103.73 271.29,102.85 271.55,104.12 271.80,102.44 272.05,98.95 272.30,98.99 272.56,97.93 272.81,97.57 273.06,96.65 273.31,95.38 273.57,93.99 273.82,94.98 274.07,93.16 274.33,90.58 274.58,89.43 274.83,88.92 275.08,85.95 275.34,87.27 275.59,86.64 275.84,87.31 276.09,87.32 276.35,90.40 276.60,90.10 276.85,91.28 277.10,89.68 277.36,87.63 277.61,86.75 277.86,89.55 278.12,91.36 278.37,92.38 278.62,94.83 278.87,89.04 279.13,89.97 279.38,93.10 279.63,90.82 279.88,90.90 280.14,92.55 280.39,93.66 280.64,94.15 280.89,91.37 281.15,91.53 281.40,91.72 281.40,111.13 281.15,111.92 280.89,116.19 280.64,117.61 280.39,113.56 280.14,114.81 279.88,112.08 279.63,112.80 279.38,111.89 279.13,112.05 278.87,113.78 278.62,117.20 278.37,113.42 278.12,111.89 277.86,107.71 277.61,108.56 277.36,108.53 277.10,111.12 276.85,112.50 276.60,112.98 276.35,108.42 276.09,107.37 275.84,107.95 275.59,108.00 275.34,106.80 275.08,106.22 274.83,106.50 274.58,108.46 274.33,110.00 274.07,111.59 273.82,114.32 273.57,114.90 273.31,116.33 273.06,115.90 272.81,116.77 272.56,117.17 272.30,118.83 272.05,120.81 271.80,121.66 271.55,123.03 271.29,123.82 271.04,122.65 270.79,125.49 270.54,128.34 270.28,127.22 270.03,128.77 269.78,130.05 269.52,135.71 269.27,133.31 269.02,136.06 268.77,131.98 268.51,129.44 268.26,132.73 268.01,130.64 267.76,129.67 267.50,130.54 267.25,130.86 267.00,129.56 266.75,129.30 266.49,129.09 266.24,130.76 265.99,135.40 265.73,131.68 265.48,135.80 265.23,135.30 264.98,134.26 264.72,137.04 264.47,139.71 264.22,141.61 263.97,143.61 263.71,145.59 263.46,148.43 263.21,149.24 262.96,147.54 262.70,147.70 262.45,153.96 262.20,150.13 261.94,152.38 261.69,152.98 261.44,155.31 261.19,155.98 260.93,158.43 260.68,158.28 260.43,158.33 260.18,157.97 259.92,160.83 259.67,165.03 259.42,166.93 259.17,170.48 258.91,169.77 258.66,171.28 258.41,175.42 258.15,174.97 257.90,173.13 257.65,176.81 257.40,175.81 257.14,171.31 256.89,170.81 256.64,169.70 256.39,173.22 256.13,174.51 255.88,164.91 255.63,162.19 255.38,163.34 255.12,169.00 254.87,167.47 254.62,164.29 254.36,161.70 254.11,158.83 253.86,158.89 253.61,156.59 253.35,155.31 253.10,152.00 252.85,152.71 252.60,151.22 252.34,151.34 252.09,147.63 251.84,145.77 251.59,147.13 251.33,144.16 251.08,146.27 250.83,145.94 250.57,147.05 250.32,145.80 250.07,145.22 249.82,144.85 249.56,142.27 249.31,141.29 249.06,143.61 248.81,137.07 248.55,136.56 248.30,138.31 248.05,136.87 247.80,135.71 247.54,138.77 247.29,142.21 247.04,137.95 246.78,137.43 246.53,133.45 246.28,130.93 246.03,129.81 245.77,133.32 245.52,133.48 245.27,133.28 245.02,134.03 244.76,131.84 244.51,130.03 244.26,131.46 244.01,125.43 243.75,125.04 243.50,124.33" fill="#90f5b0" stroke="none" stroke-width="1.2"/>
<polyline points="243.50,115.33 243.75,116.04 244.01,116.43 244.26,117.05 244.51,119.47 244.76,122.81 245.02,124.57 245.27,124.60 245.52,123.89 245.77,122.36 246.03,120.94 246.28,121.45 246.53,123.93 246.78,126.73 247.04,128.45 247.29,128.23 247.54,127.07 247.80,127.02 248.05,128.13 248.30,128.45 248.55,127.93 248.81,128.51 249.06,130.67 249.31,132.25 249.56,132.61 249.82,133.31 250.07,134.70 250.32,136.02 250.57,136.99 250.83,137.30 251.08,136.49 251.33,135.54 251.59,134.88 251.84,135.32 252.09,137.81 252.34,140.79 252.60,142.13 252.85,142.27 253.10,142.27 253.35,142.81 253.61,144.77 253.86,147.25 254.11,149.02 254.36,150.57 254.62,152.82 254.87,154.48 255.12,154.61 255.38,153.90 255.63,153.31 255.88,154.40 256.13,157.18 256.39,159.55 256.64,160.74 256.89,161.22 257.14,162.48 257.40,164.36 257.65,165.00 257.90,164.04 258.15,162.49 258.41,161.91 258.66,161.29 258.91,160.13 259.17,159.31 259.42,158.20 259.67,155.65 259.92,152.07 260.18,148.91 260.43,147.25 260.68,146.72 260.93,146.40 261.19,145.92 261.44,145.26 261.69,144.17 261.94,142.20 262.20,140.41 262.45,139.21 262.70,138.42 262.96,138.25 263.21,138.05 263.46,137.61 263.71,136.85 263.97,134.83 264.22,131.80 264.47,128.65 264.72,126.50 264.98,125.76 265.23,125.50 265.48,124.74 265.73,122.72 265.99,119.83 266.24,118.06 266.49,118.17 266.75,119.94 267.00,120.26 267.25,119.82 267.50,120.19 267.76,121.07 268.01,121.17 268.26,120.57 268.51,120.73 268.77,122.24 269.02,123.67 269.27,124.29 269.52,123.00 269.78,121.03 270.03,119.53 270.28,118.59 270.54,117.26 270.79,115.48 271.04,113.97 271.29,113.19 271.55,112.98 271.80,112.49 272.05,111.43 272.30,109.78 272.56,107.79 272.81,107.05 273.06,106.64 273.31,104.98 273.57,103.74 273.82,103.73 274.07,102.93 274.33,101.25 274.58,99.65 274.83,97.99 275.08,97.62 275.34,98.02 275.59,98.24 275.84,98.17 276.09,98.39 276.35,99.05 276.60,100.12 276.85,101.08 277.10,101.08 277.36,99.87 277.61,98.67 277.86,99.09 278.12,101.25 278.37,103.25 278.62,103.44 278.87,102.64 279.13,102.11 279.38,102.05 279.63,102.48 279.88,103.04 280.14,103.49 280.39,103.43 280.64,102.80 280.89,102.00 281.15,101.33 281.40,101.13" fill="none" stroke="#90f5b0" stroke-width="6.5" stroke-linejoin="round"/>
<polyline points="243.50,115.33 243.75,116.04 244.01,116.43 244.26,117.05 244.51,119.47 244.76,122.81 245.02,124.57 245.27,124.60 245.52,123.89 245.77,122.36 246.03,120.94 246.28,121.45 246.53,123.93 246.78,126.73 247.04,128.45 247.29,128.23 247.54,127.07 247.80,127.02 248.05,128.13 248.30,128.45 248.55,127.93 248.81,128.51 249.06,130.67 249.31,132.25 249.56,132.61 249.82,133.31 250.07,134.70 250.32,136.02 250.57,136.99 250.83,137.30 251.08,136.49 251.33,135.54 251.59,134.88 251.84,135.32 252.09,137.81 252.34,140.79 252.60,142.13 252.85,142.27 253.10,142.27 253.35,142.81 253.61,144.77 253.86,147.25 254.11,149.02 254.36,150.57 254.62,152.82 254.87,154.48 255.12,154.61 255.38,153.90 255.63,153.31 255.88,154.40 256.13,157.18 256.39,159.55 256.64,160.74 256.89,161.22 257.14,162.48 257.40,164.36 257.65,165.00 257.90,164.04 258.15,162.49 258.41,161.91 258.66,161.29 258.91,160.13 259.17,159.31 259.42,158.20 259.67,155.65 259.92,152.07 260.18,148.91 260.43,147.25 260.68,146.72 260.93,146.40 261.19,145.92 261.44,145.26 261.69,144.17 261.94,142.20 262.20,140.41 262.45,139.21 262.70,138.42 262.96,138.25 263.21,138.05 263.46,137.61 263.71,136.85 263.97,134.83 264.22,131.80 264.47,128.65 264.72,126.50 264.98,125.76 265.23,125.50 265.48,124.74 265.73,122.72 265.99,119.83 266.24,118.06 266.49,118.17 266.75,119.94 267.00,120.26 267.25,119.82 267.50,120.19 267.76,121.07 268.01,121.17 268.26,120.57 268.51,120.73 268.77,122.24 269.02,123.67 269.27,124.29 269.52,123.00 269.78,121.03 270.03,119.53 270.28,118.59 270.54,117.26 270.79,115.48 271.04,113.97 271.29,113.19 271.55,112.98 271.80,112.49 272.05,111.43 272.30,109.78 272.56,107.79 272.81,107.05 273.06,106.64 273.31,104.98 273.57,103.74 273.82,103.73 274.07,102.93 274.33,101.25 274.58,99.65 274.83,97.99 275.08,97.62 275.34,98.02 275.59,98.24 275.84,98.17 276.09,98.39 276.35,99.05 276.60,100.12 276.85,101.08 277.10,101.08 277.36,99.87 277.61,98.67 277.86,99.09 278.12,101.25 278.37,103.25 278.62,103.44 278.87,102.64 279.13,102.11 279.38,102.05 279.63,102.48 279.88,103.04 280.14,103.49 280.39,103.43 280.64,102.80 280.89,102.00 281.15,101.33 281.40,101.13" fill="none" stroke="#00f050" stroke-width="2.0" stroke-linejoin="round"/>
</g>
<polygon points="74.79,174.60 88.21,174.60 81.50,187.06" fill="#fff" stroke="#000" stroke-width="1.4"/>
<polygon points="173.39,125.70 188.51,125.70 180.95,139.06" fill="#fff" stroke="#000" stroke-width="1.4"/>
<polygon points="236.19,84.80 250.91,84.80 243.55,98.16" fill="#fff" stroke="#000" stroke-width="1.4"/>
<line x1="281.4" y1="74.7" x2="281.4" y2="248.4" stroke="#000" stroke-width="1.3"/>
<polyline points="54.2,181.3 60,181.3 60,213.1 54.2,213.1" fill="none" stroke="#000" stroke-width="1.3"/>
<text x="46.6" y="196.9" font-size="19.8" text-anchor="middle" fill="#000" transform="rotate(-90 46.6 196.9)">4 µV</text>
<text x="18.6" y="197.7" font-size="19.8" text-anchor="middle" fill="#000" transform="rotate(-90 18.6 197.7)">Voltage</text>
<line x1="101.60000000000001" y1="248.4" x2="282.0" y2="248.4" stroke="#000" stroke-width="1.25"/>
<line x1="102.2" y1="248.4" x2="102.2" y2="254.6" stroke="#000" stroke-width="1.25"/>
<line x1="147.0" y1="248.4" x2="147.0" y2="254.6" stroke="#000" stroke-width="1.25"/>
<line x1="191.8" y1="248.4" x2="191.8" y2="254.6" stroke="#000" stroke-width="1.25"/>
<line x1="236.59999999999997" y1="248.4" x2="236.59999999999997" y2="254.6" stroke="#000" stroke-width="1.25"/>
<line x1="281.4" y1="248.4" x2="281.4" y2="254.6" stroke="#000" stroke-width="1.25"/>
<text x="124.22" y="276.8" font-size="19.8" text-anchor="end" fill="#000">–2000</text>
<text x="213.82" y="276.8" font-size="19.8" text-anchor="end" fill="#000">–1000</text>
<text x="281.4" y="276.8" font-size="19.8" text-anchor="middle" fill="#000">0</text>
<text x="191.4" y="304.3" font-size="19.8" text-anchor="middle" fill="#000">Time (ms)</text>
<text x="0" y="387.4" font-size="28" text-anchor="start" font-weight="bold" fill="#000">c</text>
<text x="191.7" y="389.0" font-size="19.9" text-anchor="middle" fill="#000">8–15 Hz</text>
<text x="282.0" y="399.5" font-size="19.8" text-anchor="middle" fill="#000">Saccade</text>
<polygon points="272.30,407.80 291.00,407.80 281.65,422.90" fill="#000" stroke="none" stroke-width="1.2"/>
<text x="79.0" y="461.9" font-size="19.8" text-anchor="middle" fill="#000">Cue</text>
<polygon points="81.50,495.35 82.17,495.29 82.84,495.21 83.51,495.11 84.17,495.00 84.84,494.89 85.51,494.79 86.18,494.62 86.85,494.25 87.52,493.69 88.19,492.93 88.85,491.97 89.52,490.88 90.19,489.79 90.86,488.70 91.53,487.61 92.20,486.52 92.87,485.44 93.53,484.59 94.20,484.03 94.87,483.76 95.54,483.78 96.21,484.08 96.88,484.61 97.55,485.44 98.21,486.56 98.88,487.98 99.55,489.70 100.22,491.49 100.89,493.15 101.56,494.68 102.23,496.08 102.89,497.36 103.56,498.56 104.23,499.76 104.90,500.86 105.57,501.82 106.24,502.65 106.91,503.36 107.57,503.93 108.24,504.47 108.91,505.03 109.58,505.64 110.25,506.29 110.92,506.98 111.59,507.72 112.25,508.49 112.92,509.26 113.59,510.03 114.26,510.73 114.93,511.28 115.60,511.67 116.27,511.91 116.93,512.00 117.60,512.00 118.27,512.00 118.94,512.00 119.61,512.06 120.28,512.19 120.95,512.41 121.61,512.72 122.28,513.10 122.95,513.52 123.62,513.93 124.29,514.35 124.96,514.76 125.63,515.18 126.29,515.59 126.96,515.96 127.63,516.30 128.30,516.61 128.97,516.87 129.64,517.10 130.31,517.34 130.97,517.57 131.64,517.79 132.31,518.00 132.98,518.18 133.65,518.35 134.32,518.49 134.98,518.62 135.65,518.75 136.32,518.88 136.99,519.01 137.66,519.14 138.33,519.27 139.00,519.40 139.66,519.53 140.33,519.65 141.00,519.75 141.67,519.83 142.34,519.88 143.01,519.90 143.68,519.90 144.34,519.90 145.01,519.90 145.68,519.90 146.35,519.90 147.02,519.90 147.69,519.93 148.36,520.01 149.02,520.13 149.69,520.30 150.36,520.51 151.03,520.74 151.70,520.97 152.37,521.20 153.04,521.43 153.70,521.66 154.37,521.88 155.04,522.10 155.71,522.31 156.38,522.53 157.05,522.74 157.72,522.96 158.38,523.04 159.05,522.98 159.72,522.78 160.39,522.43 161.06,521.94 161.73,521.45 162.40,520.95 163.06,520.45 163.73,519.96 164.40,519.46 165.07,519.09 165.74,518.98 166.41,519.14 167.08,519.57 167.74,520.27 168.41,521.12 169.08,522.06 169.75,523.06 170.42,524.14 171.09,525.29 171.76,526.50 172.42,527.72 173.09,528.93 173.76,530.05 174.43,530.86 175.10,531.36 175.77,531.55 176.44,531.43 177.10,531.10 177.77,530.76 178.44,530.43 179.11,530.11 179.78,529.83 180.45,529.57 181.12,529.35 181.78,529.17 182.45,529.03 183.12,529.02 183.79,529.12 184.46,529.35 185.13,529.71 185.80,530.15 186.46,530.59 187.13,531.03 187.80,531.44 188.47,531.76 189.14,532.00 189.81,532.14 190.48,532.20 191.14,532.20 191.81,532.20 192.48,532.20 193.15,532.20 193.82,532.21 194.49,532.25 195.16,532.32 195.82,532.43 196.49,532.58 197.16,532.74 197.83,532.91 198.50,533.08 199.17,533.25 199.84,533.42 200.50,533.58 201.17,533.75 201.84,533.92 202.51,534.09 203.18,534.26 203.85,534.43 204.52,534.59 205.18,534.76 205.85,534.93 206.52,535.10 207.19,535.27 207.86,535.44 208.53,535.60 209.20,535.77 209.86,536.01 210.53,536.30 211.20,536.66 211.87,537.08 212.54,537.56 213.21,538.04 213.88,538.52 214.54,539.00 215.21,539.48 215.88,539.96 216.55,540.44 217.22,540.92 217.89,541.40 218.56,541.88 219.22,542.36 219.89,542.84 220.56,543.32 221.23,543.80 221.90,544.25 222.57,544.64 223.24,544.98 223.90,545.25 224.57,545.47 225.24,545.66 225.91,545.85 226.58,546.04 227.25,546.22 227.92,546.41 228.58,546.60 229.25,546.77 229.92,546.93 230.59,547.06 231.26,547.18 231.93,547.28 232.59,547.37 233.26,547.47 233.93,547.56 234.60,547.66 235.27,547.75 235.94,547.82 236.61,547.80 237.27,547.72 237.94,547.55 238.61,547.31 239.28,547.02 239.95,546.74 240.62,546.45 241.29,546.16 241.95,545.88 242.62,545.59 243.29,545.56 243.96,545.80 244.63,546.31 245.30,547.09 245.97,548.15 246.63,549.22 247.30,550.29 247.97,551.35 248.64,552.41 249.31,553.47 249.98,554.52 250.65,555.56 251.31,556.60 251.98,557.63 252.65,558.67 253.32,559.70 253.99,560.58 254.66,561.31 255.33,561.89 255.99,562.32 256.66,562.62 257.33,562.92 258.00,563.22 258.67,563.51 259.34,563.81 260.01,564.11 260.67,564.41 261.34,564.72 262.01,565.05 262.68,565.39 263.35,565.74 264.02,566.11 264.69,566.48 265.35,566.85 266.02,567.22 266.69,567.59 267.36,567.96 268.03,568.28 268.70,568.56 269.37,568.79 270.03,568.98 270.70,569.11 271.37,569.25 272.04,569.39 272.71,569.53 273.38,569.67 274.05,569.84 274.71,570.06 275.38,570.34 276.05,570.68 276.72,571.08 277.39,571.49 278.06,571.91 278.73,572.33 279.39,572.75 280.06,573.16 280.73,573.50 281.40,573.75 281.40,589.66 280.73,589.41 280.06,589.09 279.39,588.68 278.73,588.27 278.06,587.86 277.39,587.46 276.72,587.05 276.05,586.66 275.38,586.33 274.71,586.05 274.05,585.82 273.38,585.64 272.71,585.49 272.04,585.34 271.37,585.19 270.70,585.05 270.03,584.90 269.37,584.69 268.70,584.41 268.03,584.08 267.36,583.68 266.69,583.22 266.02,582.76 265.35,582.30 264.69,581.84 264.02,581.39 263.35,580.93 262.68,580.48 262.01,580.06 261.34,579.64 260.67,579.25 260.01,578.87 259.34,578.49 258.67,578.11 258.00,577.73 257.33,577.35 256.66,576.97 255.99,576.59 255.33,576.16 254.66,575.67 253.99,575.12 253.32,574.52 252.65,573.85 251.98,573.18 251.31,572.51 250.65,571.85 249.98,571.18 249.31,570.51 248.64,569.84 247.97,569.17 247.30,568.50 246.63,567.83 245.97,567.17 245.30,566.50 244.63,565.95 243.96,565.50 243.29,565.16 242.62,564.92 241.95,564.79 241.29,564.66 240.62,564.52 239.95,564.39 239.28,564.26 238.61,564.12 237.94,563.99 237.27,563.85 236.61,563.72 235.94,563.59 235.27,563.45 234.60,563.32 233.93,563.18 233.26,563.02 232.59,562.86 231.93,562.68 231.26,562.48 230.59,562.28 229.92,562.09 229.25,561.89 228.58,561.69 227.92,561.49 227.25,561.29 226.58,561.09 225.91,560.89 225.24,560.70 224.57,560.50 223.90,560.28 223.24,560.03 222.57,559.74 221.90,559.41 221.23,559.04 220.56,558.66 219.89,558.28 219.22,557.90 218.56,557.51 217.89,557.13 217.22,556.75 216.55,556.36 215.88,555.98 215.21,555.60 214.54,555.22 213.88,554.83 213.21,554.45 212.54,554.07 211.87,553.68 211.20,553.36 210.53,553.09 209.86,552.89 209.20,552.75 208.53,552.66 207.86,552.58 207.19,552.50 206.52,552.42 205.85,552.34 205.18,552.26 204.52,552.18 203.85,552.09 203.18,551.97 202.51,551.82 201.84,551.66 201.17,551.47 200.50,551.28 199.84,551.09 199.17,550.90 198.50,550.71 197.83,550.51 197.16,550.32 196.49,550.13 195.82,549.95 195.16,549.79 194.49,549.65 193.82,549.53 193.15,549.43 192.48,549.33 191.81,549.23 191.14,549.13 190.48,549.03 189.81,548.98 189.14,548.98 188.47,549.06 187.80,549.20 187.13,549.40 186.46,549.63 185.80,549.85 185.13,550.08 184.46,550.29 183.79,550.48 183.12,550.65 182.45,550.79 181.78,550.91 181.12,551.03 180.45,551.15 179.78,551.26 179.11,551.25 178.44,551.11 177.77,550.83 177.10,550.42 176.44,549.87 175.77,549.31 175.10,548.76 174.43,548.20 173.76,547.67 173.09,547.16 172.42,546.67 171.76,546.20 171.09,545.75 170.42,545.30 169.75,544.85 169.08,544.41 168.41,544.05 167.74,543.77 167.08,543.55 166.41,543.41 165.74,543.33 165.07,543.24 164.40,543.16 163.73,543.07 163.06,542.99 162.40,542.90 161.73,542.81 161.06,542.70 160.39,542.57 159.72,542.43 159.05,542.28 158.38,542.11 157.72,541.95 157.05,541.79 156.38,541.63 155.71,541.46 155.04,541.32 154.37,541.31 153.70,541.43 153.04,541.68 152.37,542.06 151.70,542.56 151.03,543.06 150.36,543.55 149.69,544.05 149.02,544.55 148.36,545.04 147.69,545.52 147.02,545.96 146.35,546.37 145.68,546.75 145.01,547.09 144.34,547.43 143.68,547.76 143.01,548.10 142.34,548.25 141.67,548.21 141.00,547.96 140.33,547.51 139.66,546.86 139.00,546.23 138.33,545.63 137.66,545.09 136.99,544.58 136.32,544.13 135.65,543.68 134.98,543.24 134.32,542.80 133.65,542.34 132.98,541.86 132.31,541.35 131.64,540.81 130.97,540.25 130.31,539.69 129.64,539.12 128.97,538.56 128.30,538.10 127.63,537.76 126.96,537.52 126.29,537.41 125.63,537.40 124.96,537.40 124.29,537.40 123.62,537.40 122.95,537.35 122.28,537.27 121.61,537.14 120.95,536.97 120.28,536.75 119.61,536.54 118.94,536.32 118.27,536.10 117.60,535.84 116.93,535.54 116.27,535.20 115.60,534.82 114.93,534.40 114.26,533.98 113.59,533.56 112.92,533.14 112.25,532.72 111.59,532.30 110.92,531.88 110.25,531.46 109.58,531.05 108.91,530.64 108.24,530.24 107.57,529.83 106.91,529.41 106.24,528.88 105.57,528.24 104.90,527.51 104.23,526.66 103.56,525.74 102.89,524.81 102.23,523.91 101.56,523.07 100.89,522.28 100.22,521.54 99.55,520.85 98.88,520.25 98.21,519.83 97.55,519.58 96.88,519.51 96.21,519.61 95.54,519.82 94.87,520.04 94.20,520.25 93.53,520.47 92.87,520.69 92.20,520.91 91.53,521.14 90.86,521.37 90.19,521.60 89.52,521.83 88.85,522.06 88.19,522.28 87.52,522.46 86.85,522.62 86.18,522.75 85.51,522.86 84.84,522.95 84.17,523.05 83.51,523.14 82.84,523.23 82.17,523.30 81.50,523.35" fill="#ff80ff" stroke="none" stroke-width="1.2"/>
<polyline points="81.50,508.53 82.17,508.57 82.84,508.62 83.51,508.69 84.17,508.76 84.84,508.69 85.51,508.50 86.18,508.17 86.85,507.70 87.52,507.11 88.19,506.52 88.85,505.93 89.52,505.33 90.19,504.75 90.86,504.18 91.53,503.62 92.20,503.06 92.87,502.52 93.53,501.97 94.20,501.56 94.87,501.33 95.54,501.30 96.21,501.46 96.88,501.95 97.55,502.70 98.21,503.67 98.88,504.84 99.55,506.22 100.22,507.68 100.89,509.13 101.56,510.43 102.23,511.57 102.89,512.56 103.56,513.39 104.23,514.08 104.90,514.76 105.57,515.42 106.24,516.02 106.91,516.58 107.57,517.09 108.24,517.55 108.91,517.99 109.58,518.43 110.25,518.88 110.92,519.35 111.59,519.87 112.25,520.44 112.92,521.06 113.59,521.73 114.26,522.41 114.93,523.09 115.60,523.77 116.27,524.33 116.93,524.75 117.60,525.04 118.27,525.19 118.94,525.20 119.61,525.20 120.28,525.20 120.95,525.20 121.61,525.24 122.28,525.33 122.95,525.45 123.62,525.62 124.29,525.84 124.96,526.05 125.63,526.27 126.29,526.48 126.96,526.75 127.63,527.06 128.30,527.42 128.97,527.82 129.64,528.27 130.31,528.72 130.97,529.17 131.64,529.61 132.31,530.04 132.98,530.44 133.65,530.82 134.32,531.17 134.98,531.51 135.65,531.85 136.32,532.19 136.99,532.53 137.66,532.85 138.33,533.16 139.00,533.45 139.66,533.73 140.33,533.98 141.00,534.12 141.67,534.15 142.34,534.07 143.01,533.88 143.68,533.58 144.34,533.29 145.01,532.99 145.68,532.71 146.35,532.46 147.02,532.25 147.69,532.07 148.36,531.94 149.02,531.82 149.69,531.71 150.36,531.60 151.03,531.51 151.70,531.50 152.37,531.56 153.04,531.69 153.70,531.90 154.37,532.14 155.04,532.39 155.71,532.64 156.38,532.89 157.05,533.14 157.72,533.39 158.38,533.53 159.05,533.55 159.72,533.46 160.39,533.25 161.06,532.92 161.73,532.59 162.40,532.25 163.06,531.92 163.73,531.58 164.40,531.25 165.07,530.99 165.74,530.91 166.41,531.00 167.08,531.27 167.74,531.71 168.41,532.24 169.08,532.77 169.75,533.37 170.42,534.05 171.09,534.80 171.76,535.62 172.42,536.53 173.09,537.44 173.76,538.35 174.43,539.24 175.10,539.91 175.77,540.36 176.44,540.59 177.10,540.59 177.77,540.40 178.44,540.20 179.11,540.01 179.78,539.82 180.45,539.62 181.12,539.50 181.78,539.46 182.45,539.51 183.12,539.64 183.79,539.85 184.46,540.09 185.13,540.32 185.80,540.55 186.46,540.73 187.13,540.87 187.80,540.96 188.47,541.00 189.14,541.00 189.81,541.00 190.48,541.00 191.14,541.00 191.81,541.00 192.48,541.00 193.15,541.00 193.82,541.01 194.49,541.05 195.16,541.12 195.82,541.23 196.49,541.37 197.16,541.54 197.83,541.71 198.50,541.87 199.17,542.04 199.84,542.21 200.50,542.38 201.17,542.54 201.84,542.71 202.51,542.88 203.18,543.05 203.85,543.23 204.52,543.40 205.18,543.58 205.85,543.76 206.52,543.94 207.19,544.12 207.86,544.30 208.53,544.47 209.20,544.65 209.86,544.85 210.53,545.07 211.20,545.30 211.87,545.55 212.54,545.82 213.21,546.09 213.88,546.36 214.54,546.63 215.21,546.90 215.88,547.17 216.55,547.44 217.22,547.71 217.89,547.98 218.56,548.25 219.22,548.52 219.89,548.79 220.56,549.06 221.23,549.33 221.90,549.59 222.57,549.84 223.24,550.07 223.90,550.29 224.57,550.50 225.24,550.70 225.91,550.89 226.58,551.09 227.25,551.29 227.92,551.49 228.58,551.69 229.25,551.89 229.92,552.09 230.59,552.28 231.26,552.48 231.93,552.69 232.59,552.93 233.26,553.19 233.93,553.48 234.60,553.80 235.27,554.13 235.94,554.47 236.61,554.80 237.27,555.14 237.94,555.45 238.61,555.70 239.28,555.90 239.95,556.04 240.62,556.13 241.29,556.18 241.95,556.24 242.62,556.29 243.29,556.47 243.96,556.80 244.63,557.26 245.30,557.86 245.97,558.60 246.63,559.35 247.30,560.10 247.97,560.85 248.64,561.62 249.31,562.39 249.98,563.18 250.65,563.97 251.31,564.77 251.98,565.57 252.65,566.37 253.32,567.16 253.99,567.87 254.66,568.50 255.33,569.05 255.99,569.51 256.66,569.90 257.33,570.29 258.00,570.68 258.67,571.06 259.34,571.45 260.01,571.84 260.67,572.23 261.34,572.63 262.01,573.04 262.68,573.47 263.35,573.91 264.02,574.35 264.69,574.80 265.35,575.25 266.02,575.70 266.69,576.15 267.36,576.60 268.03,576.99 268.70,577.32 269.37,577.60 270.03,577.82 270.70,577.98 271.37,578.14 272.04,578.30 272.71,578.45 273.38,578.61 274.05,578.79 274.71,579.00 275.38,579.24 276.05,579.51 276.72,579.81 277.39,580.12 278.06,580.43 278.73,580.75 279.39,581.06 280.06,581.37 280.73,581.62 281.40,581.81" fill="none" stroke="#ff00ff" stroke-width="1.7" stroke-linejoin="round"/>
<line x1="81.5" y1="506.5" x2="281.4" y2="575.4" stroke="#000" stroke-width="1.4"/>
<polygon points="180.70,446.89 181.21,446.79 181.71,446.65 182.22,446.47 182.72,446.29 183.23,446.12 183.74,445.94 184.24,445.79 184.75,445.67 185.25,445.60 185.76,445.58 186.27,445.59 186.77,445.63 187.28,445.66 187.78,445.70 188.29,445.74 188.80,445.77 189.30,445.81 189.81,445.84 190.31,445.88 190.82,445.92 191.33,445.99 191.83,446.13 192.34,446.33 192.84,446.58 193.35,446.90 193.86,447.24 194.36,447.58 194.87,447.91 195.37,448.25 195.88,448.59 196.39,448.92 196.89,449.26 197.40,449.60 197.91,449.95 198.41,450.30 198.92,450.66 199.42,451.03 199.93,451.39 200.44,451.76 200.94,452.12 201.45,452.49 201.95,452.86 202.46,453.22 202.97,453.59 203.47,453.95 203.98,454.32 204.48,454.70 204.99,455.11 205.50,455.55 206.00,456.01 206.51,456.51 207.01,457.01 207.52,457.52 208.03,458.03 208.53,458.53 209.04,459.05 209.54,459.69 210.05,460.46 210.56,461.35 211.06,462.36 211.57,463.49 212.07,464.61 212.58,465.74 213.09,466.86 213.59,467.99 214.10,469.11 214.60,470.24 215.11,471.37 215.62,472.52 216.12,473.68 216.63,474.85 217.13,476.04 217.64,477.23 218.15,478.42 218.65,479.61 219.16,480.80 219.66,481.99 220.17,483.18 220.68,484.37 221.18,485.56 221.69,486.75 222.19,487.85 222.70,488.81 223.21,489.61 223.71,490.27 224.22,490.79 224.72,491.24 225.23,491.70 225.74,492.16 226.24,492.61 226.75,493.07 227.25,493.53 227.76,493.98 228.27,494.44 228.77,494.89 229.28,495.34 229.78,495.75 230.29,496.14 230.80,496.51 231.30,496.84 231.81,497.17 232.32,497.50 232.82,497.83 233.33,498.15 233.83,498.48 234.34,498.81 234.85,499.14 235.35,499.47 235.86,499.79 236.36,500.12 236.87,500.45 237.38,500.78 237.88,501.10 238.39,501.43 238.89,501.76 239.40,502.09 239.91,502.41 240.41,502.72 240.92,503.01 241.42,503.30 241.93,503.58 242.44,503.86 242.94,504.14 243.45,504.41 243.95,504.69 244.46,504.97 244.97,505.24 245.47,505.52 245.98,505.80 246.48,506.08 246.99,506.35 247.50,506.63 248.00,506.91 248.51,507.18 249.01,507.46 249.52,507.73 250.03,507.98 250.53,508.23 251.04,508.46 251.54,508.69 252.05,508.91 252.56,509.14 253.06,509.36 253.57,509.59 254.07,509.81 254.58,510.04 255.09,510.26 255.59,510.49 256.10,510.71 256.60,510.94 257.11,511.16 257.62,511.34 258.12,511.49 258.63,511.59 259.13,511.66 259.64,511.69 260.15,511.72 260.65,511.75 261.16,511.78 261.66,511.81 262.17,511.84 262.68,511.87 263.18,511.89 263.69,511.92 264.19,511.96 264.70,512.02 265.21,512.11 265.71,512.22 266.22,512.35 266.73,512.49 267.23,512.64 267.74,512.78 268.24,512.93 268.75,513.07 269.26,513.22 269.76,513.36 270.27,513.50 270.77,513.65 271.28,513.79 271.79,513.92 272.29,514.05 272.80,514.17 273.30,514.28 273.81,514.39 274.32,514.49 274.82,514.60 275.33,514.71 275.83,514.82 276.34,514.92 276.85,515.03 277.35,515.14 277.86,515.25 278.36,515.35 278.87,515.46 279.38,515.57 279.88,515.68 280.39,515.78 280.89,515.87 281.40,515.94 281.40,530.10 280.89,530.09 280.39,530.09 279.88,530.08 279.38,530.07 278.87,530.07 278.36,530.06 277.86,530.05 277.35,530.05 276.85,530.04 276.34,530.03 275.83,530.02 275.33,530.02 274.82,530.01 274.32,529.99 273.81,529.96 273.30,529.92 272.80,529.86 272.29,529.81 271.79,529.75 271.28,529.69 270.77,529.64 270.27,529.58 269.76,529.52 269.26,529.47 268.75,529.41 268.24,529.35 267.74,529.29 267.23,529.23 266.73,529.17 266.22,529.11 265.71,529.04 265.21,528.97 264.70,528.90 264.19,528.84 263.69,528.77 263.18,528.70 262.68,528.63 262.17,528.56 261.66,528.49 261.16,528.43 260.65,528.36 260.15,528.29 259.64,528.22 259.13,528.15 258.63,528.07 258.12,527.98 257.62,527.88 257.11,527.76 256.60,527.63 256.10,527.50 255.59,527.36 255.09,527.23 254.58,527.10 254.07,526.96 253.57,526.83 253.06,526.69 252.56,526.56 252.05,526.43 251.54,526.29 251.04,526.16 250.53,526.03 250.03,525.87 249.52,525.68 249.01,525.46 248.51,525.20 248.00,524.90 247.50,524.59 246.99,524.28 246.48,523.97 245.98,523.66 245.47,523.35 244.97,523.04 244.46,522.73 243.95,522.42 243.45,522.11 242.94,521.80 242.44,521.49 241.93,521.18 241.42,520.87 240.92,520.56 240.41,520.26 239.91,519.95 239.40,519.66 238.89,519.36 238.39,519.07 237.88,518.77 237.38,518.48 236.87,518.19 236.36,517.90 235.86,517.60 235.35,517.31 234.85,517.02 234.34,516.73 233.83,516.43 233.33,516.14 232.82,515.85 232.32,515.53 231.81,515.17 231.30,514.78 230.80,514.36 230.29,513.90 229.78,513.43 229.28,512.96 228.77,512.49 228.27,512.02 227.76,511.55 227.25,511.09 226.75,510.62 226.24,510.15 225.74,509.67 225.23,509.18 224.72,508.67 224.22,508.14 223.71,507.60 223.21,507.05 222.70,506.50 222.19,505.95 221.69,505.40 221.18,504.85 220.68,504.30 220.17,503.74 219.66,503.15 219.16,502.53 218.65,501.87 218.15,501.19 217.64,500.48 217.13,499.77 216.63,499.07 216.12,498.36 215.62,497.65 215.11,496.94 214.60,496.24 214.10,495.53 213.59,494.82 213.09,494.11 212.58,493.41 212.07,492.70 211.57,491.99 211.06,491.37 210.56,490.84 210.05,490.40 209.54,490.06 209.04,489.82 208.53,489.58 208.03,489.35 207.52,489.11 207.01,488.87 206.51,488.64 206.00,488.40 205.50,488.16 204.99,487.93 204.48,487.69 203.98,487.46 203.47,487.23 202.97,487.00 202.46,486.78 201.95,486.57 201.45,486.36 200.94,486.16 200.44,485.95 199.93,485.74 199.42,485.54 198.92,485.33 198.41,485.12 197.91,484.92 197.40,484.71 196.89,484.54 196.39,484.41 195.88,484.32 195.37,484.26 194.87,484.25 194.36,484.23 193.86,484.21 193.35,484.19 192.84,484.17 192.34,484.15 191.83,484.14 191.33,484.12 190.82,484.10 190.31,484.08 189.81,484.06 189.30,484.05 188.80,484.04 188.29,484.05 187.78,484.08 187.28,484.13 186.77,484.20 186.27,484.28 185.76,484.37 185.25,484.45 184.75,484.53 184.24,484.62 183.74,484.70 183.23,484.78 182.72,484.87 182.22,484.95 181.71,485.03 181.21,485.10 180.70,485.15" fill="#80c8ff" stroke="none" stroke-width="1.2"/>
<polyline points="180.70,466.09 181.21,465.98 181.71,465.83 182.22,465.65 182.72,465.46 183.23,465.28 183.74,465.11 184.24,464.95 184.75,464.80 185.25,464.65 185.76,464.51 186.27,464.37 186.77,464.25 187.28,464.19 187.78,464.20 188.29,464.26 188.80,464.38 189.30,464.54 189.81,464.70 190.31,464.87 190.82,465.03 191.33,465.19 191.83,465.35 192.34,465.51 192.84,465.67 193.35,465.84 193.86,466.00 194.36,466.16 194.87,466.32 195.37,466.48 195.88,466.64 196.39,466.83 196.89,467.04 197.40,467.29 197.91,467.56 198.41,467.86 198.92,468.17 199.42,468.48 199.93,468.79 200.44,469.09 200.94,469.40 201.45,469.71 201.95,470.02 202.46,470.33 202.97,470.64 203.47,470.95 203.98,471.25 204.48,471.59 204.99,471.99 205.50,472.43 206.00,472.92 206.51,473.47 207.01,474.04 207.52,474.61 208.03,475.18 208.53,475.75 209.04,476.32 209.54,476.89 210.05,477.46 210.56,478.03 211.06,478.60 211.57,479.22 212.07,479.93 212.58,480.73 213.09,481.61 213.59,482.58 214.10,483.60 214.60,484.61 215.11,485.62 215.62,486.63 216.12,487.64 216.63,488.66 217.13,489.67 217.64,490.68 218.15,491.69 218.65,492.63 219.16,493.47 219.66,494.20 220.17,494.83 220.68,495.37 221.18,495.87 221.69,496.37 222.19,496.87 222.70,497.37 223.21,497.88 223.71,498.38 224.22,498.88 224.72,499.38 225.23,499.88 225.74,500.38 226.24,500.89 226.75,501.39 227.25,501.89 227.76,502.39 228.27,502.89 228.77,503.40 229.28,503.90 229.78,504.40 230.29,504.90 230.80,505.39 231.30,505.84 231.81,506.25 232.32,506.61 232.82,506.93 233.33,507.22 233.83,507.51 234.34,507.79 234.85,508.08 235.35,508.37 235.86,508.65 236.36,508.94 236.87,509.23 237.38,509.51 237.88,509.80 238.39,510.09 238.89,510.37 239.40,510.65 239.91,510.92 240.41,511.17 240.92,511.41 241.42,511.64 241.93,511.87 242.44,512.10 242.94,512.33 243.45,512.56 243.95,512.79 244.46,513.01 244.97,513.24 245.47,513.47 245.98,513.70 246.48,513.93 246.99,514.16 247.50,514.39 248.00,514.61 248.51,514.84 249.01,515.08 249.52,515.32 250.03,515.57 250.53,515.82 251.04,516.07 251.54,516.32 252.05,516.58 252.56,516.83 253.06,517.08 253.57,517.33 254.07,517.59 254.58,517.84 255.09,518.09 255.59,518.35 256.10,518.60 256.60,518.85 257.11,519.10 257.62,519.32 258.12,519.51 258.63,519.67 259.13,519.80 259.64,519.90 260.15,520.00 260.65,520.09 261.16,520.19 261.66,520.29 262.17,520.39 262.68,520.48 263.18,520.58 263.69,520.68 264.19,520.78 264.70,520.88 265.21,520.97 265.71,521.07 266.22,521.17 266.73,521.28 267.23,521.39 267.74,521.50 268.24,521.62 268.75,521.74 269.26,521.86 269.76,521.99 270.27,522.11 270.77,522.23 271.28,522.35 271.79,522.47 272.29,522.59 272.80,522.71 273.30,522.83 273.81,522.93 274.32,523.02 274.82,523.11 275.33,523.18 275.83,523.25 276.34,523.32 276.85,523.38 277.35,523.45 277.86,523.52 278.36,523.59 278.87,523.66 279.38,523.73 279.88,523.79 280.39,523.86 280.89,523.92 281.40,523.96" fill="none" stroke="#0a8cff" stroke-width="1.8" stroke-linejoin="round"/>
<line x1="180.9" y1="461.4" x2="281.2" y2="534.7" stroke="#06304e" stroke-width="1.5"/>
<polygon points="243.00,455.43 243.48,455.70 243.96,456.10 244.44,456.50 244.92,456.89 245.41,457.29 245.89,457.69 246.37,458.14 246.85,458.67 247.33,459.27 247.81,459.90 248.29,460.52 248.77,461.14 249.25,461.77 249.73,462.39 250.22,463.01 250.70,463.64 251.18,464.26 251.66,464.88 252.14,465.51 252.62,466.13 253.10,466.75 253.58,467.09 254.06,467.13 254.54,466.87 255.03,466.61 255.51,466.34 255.99,466.07 256.47,465.80 256.95,465.53 257.43,465.27 257.91,465.00 258.39,464.73 258.87,464.46 259.35,464.19 259.84,463.93 260.32,463.63 260.80,463.26 261.28,462.83 261.76,462.36 262.24,461.88 262.72,461.41 263.20,460.93 263.68,460.46 264.16,459.99 264.65,459.51 265.13,459.04 265.61,458.56 266.09,458.09 266.57,457.61 267.05,457.14 267.53,456.62 268.01,456.05 268.49,455.40 268.97,454.74 269.46,454.07 269.94,453.41 270.42,452.74 270.90,452.08 271.38,451.41 271.86,450.75 272.34,450.41 272.82,450.46 273.30,450.88 273.78,451.35 274.27,451.81 274.75,452.28 275.23,452.75 275.71,453.38 276.19,454.43 276.67,455.91 277.15,457.63 277.63,459.36 278.11,461.08 278.59,462.81 279.08,464.53 279.56,466.26 280.04,467.98 280.52,469.56 281.00,470.57 281.00,486.77 280.52,486.14 280.04,485.13 279.56,483.96 279.08,482.79 278.59,481.62 278.11,480.45 277.63,479.28 277.15,478.10 276.67,476.93 276.19,475.91 275.71,475.13 275.23,474.59 274.75,474.15 274.27,473.71 273.78,473.27 273.30,472.83 272.82,472.41 272.34,472.16 271.86,472.09 271.38,472.17 270.90,472.25 270.42,472.34 269.94,472.42 269.46,472.50 268.97,472.58 268.49,472.66 268.01,472.74 267.53,472.83 267.05,472.91 266.57,473.02 266.09,473.17 265.61,473.35 265.13,473.55 264.65,473.74 264.16,473.93 263.68,474.12 263.20,474.31 262.72,474.50 262.24,474.69 261.76,474.89 261.28,475.08 260.80,475.27 260.32,475.46 259.84,475.65 259.35,475.84 258.87,476.03 258.39,476.22 257.91,476.49 257.43,476.90 256.95,477.45 256.47,478.05 255.99,478.66 255.51,479.27 255.03,479.87 254.54,480.48 254.06,481.09 253.58,481.69 253.10,482.30 252.62,482.91 252.14,483.52 251.66,484.11 251.18,484.34 250.70,484.23 250.22,483.78 249.73,483.32 249.25,482.87 248.77,482.42 248.29,481.97 247.81,481.52 247.33,481.07 246.85,480.61 246.37,480.16 245.89,479.71 245.41,479.26 244.92,478.81 244.44,478.36 243.96,477.90 243.48,477.45 243.00,477.15" fill="#80ffaa" stroke="none" stroke-width="1.2"/>
<polyline points="243.00,466.07 243.48,466.41 243.96,466.92 244.44,467.44 244.92,467.95 245.41,468.46 245.89,468.97 246.37,469.48 246.85,469.99 247.33,470.51 247.81,471.02 248.29,471.53 248.77,472.04 249.25,472.55 249.73,473.06 250.22,473.58 250.70,474.09 251.18,474.60 251.66,475.11 252.14,475.48 252.62,475.54 253.10,475.28 253.58,474.85 254.06,474.43 254.54,474.00 255.03,473.57 255.51,473.15 255.99,472.72 256.47,472.29 256.95,471.87 257.43,471.46 257.91,471.12 258.39,470.83 258.87,470.58 259.35,470.32 259.84,470.06 260.32,469.81 260.80,469.55 261.28,469.29 261.76,469.04 262.24,468.78 262.72,468.53 263.20,468.27 263.68,468.01 264.16,467.76 264.65,467.50 265.13,467.22 265.61,466.87 266.09,466.46 266.57,466.01 267.05,465.57 267.53,465.12 268.01,464.67 268.49,464.23 268.97,463.78 269.46,463.33 269.94,462.89 270.42,462.44 270.90,461.99 271.38,461.55 271.86,461.10 272.34,460.90 272.82,460.97 273.30,461.33 273.78,461.72 274.27,462.10 274.75,462.49 275.23,462.88 275.71,463.39 276.19,464.20 276.67,465.31 277.15,466.61 277.63,467.90 278.11,469.20 278.59,470.50 279.08,471.79 279.56,473.09 280.04,474.38 280.52,475.52 281.00,476.23" fill="none" stroke="#00ec50" stroke-width="1.7" stroke-linejoin="round"/>
<polygon points="73.79,467.90 89.61,467.90 81.70,480.86" fill="#fff" stroke="#000" stroke-width="1.4"/>
<polygon points="173.29,423.30 188.21,423.30 180.75,435.86" fill="#fff" stroke="#000" stroke-width="1.4"/>
<polygon points="235.99,433.40 251.31,433.40 243.65,445.96" fill="#fff" stroke="#000" stroke-width="1.4"/>
<line x1="281.4" y1="429.7" x2="281.4" y2="598.4" stroke="#000" stroke-width="1.3"/>
<polyline points="53.9,508.9 59.6,508.9 59.6,541.9 53.9,541.9" fill="none" stroke="#000" stroke-width="1.3"/>
<text x="46.7" y="525.5" font-size="19.8" text-anchor="middle" fill="#000" transform="rotate(-90 46.7 525.5)">0.5</text>
<text x="15.0" y="536.8" font-size="19.8" text-anchor="middle" fill="#000" transform="rotate(-90 15.0 536.8)">Power (z-score)</text>
<line x1="101.60000000000001" y1="598.4" x2="282.0" y2="598.4" stroke="#000" stroke-width="1.25"/>
<line x1="102.2" y1="598.4" x2="102.2" y2="604.6" stroke="#000" stroke-width="1.25"/>
<line x1="147.0" y1="598.4" x2="147.0" y2="604.6" stroke="#000" stroke-width="1.25"/>
<line x1="191.8" y1="598.4" x2="191.8" y2="604.6" stroke="#000" stroke-width="1.25"/>
<line x1="236.59999999999997" y1="598.4" x2="236.59999999999997" y2="604.6" stroke="#000" stroke-width="1.25"/>
<line x1="281.4" y1="598.4" x2="281.4" y2="604.6" stroke="#000" stroke-width="1.25"/>
<text x="124.22" y="626.4" font-size="19.8" text-anchor="end" fill="#000">–2000</text>
<text x="213.82" y="626.4" font-size="19.8" text-anchor="end" fill="#000">–1000</text>
<text x="281.4" y="626.4" font-size="19.8" text-anchor="middle" fill="#000">0</text>
<text x="191.4" y="653.9" font-size="19.8" text-anchor="middle" fill="#000">Time (ms)</text>
<text x="351.8" y="20.0" font-size="28" text-anchor="start" font-weight="bold" fill="#000">b</text>
<line x1="440.3" y1="61.3" x2="440.3" y2="235.5" stroke="#000" stroke-width="1.25"/>
<line x1="434.0" y1="61.9" x2="440.9" y2="61.9" stroke="#000" stroke-width="1.25"/>
<line x1="434.0" y1="148.4" x2="440.9" y2="148.4" stroke="#000" stroke-width="1.25"/>
<line x1="434.0" y1="234.9" x2="440.9" y2="234.9" stroke="#000" stroke-width="1.25"/>
<line x1="440.3" y1="148.4" x2="685" y2="148.4" stroke="#000" stroke-width="1.35" stroke-dasharray="5.8 5"/>
<text x="427.0" y="69.7" font-size="23" text-anchor="end" fill="#000">1.0</text>
<text x="427.0" y="156.2" font-size="23" text-anchor="end" fill="#000">0</text>
<text x="427.0" y="242.7" font-size="23" text-anchor="end" fill="#000">−1.0</text>
<line x1="459.5" y1="248.3" x2="685" y2="248.3" stroke="#000" stroke-width="1.25"/>
<line x1="475.7" y1="248.3" x2="475.7" y2="254.5" stroke="#000" stroke-width="1.25"/>
<line x1="536.4" y1="248.3" x2="536.4" y2="254.5" stroke="#000" stroke-width="1.25"/>
<line x1="580.3" y1="248.3" x2="580.3" y2="254.5" stroke="#000" stroke-width="1.25"/>
<line x1="624.3" y1="248.3" x2="624.3" y2="254.5" stroke="#000" stroke-width="1.25"/>
<line x1="668.4" y1="248.3" x2="668.4" y2="254.5" stroke="#000" stroke-width="1.25"/>
<text x="486.7" y="269.8" font-size="20.0" text-anchor="end" fill="#000" transform="rotate(-45 486.7 269.8)">ERP</text>
<text x="547.4" y="269.8" font-size="19.6" text-anchor="end" fill="#000" transform="rotate(-45 547.4 269.8)">5–8</text>
<text x="591.3" y="269.8" font-size="18.6" text-anchor="end" fill="#000" transform="rotate(-45 591.3 269.8)">8–15</text>
<text x="635.3" y="269.8" font-size="18.0" text-anchor="end" fill="#000" transform="rotate(-45 635.3 269.8)">15–25</text>
<text x="679.4" y="269.8" font-size="18.0" text-anchor="end" fill="#000" transform="rotate(-45 679.4 269.8)">30–40</text>
<line x1="523" y1="309.9" x2="685" y2="309.9" stroke="#000" stroke-width="1.3"/>
<text x="604.4" y="331.0" font-size="20.3" text-anchor="middle" fill="#000">Power</text>
<text x="572.3" y="26.6" font-size="20.3" text-anchor="middle" fill="#000">Medium</text>
<text x="0" y="0" font-size="19.9" transform="translate(368.8 148.5) rotate(-90)" text-anchor="middle">Spearman <tspan font-style="italic" dx="1">r</tspan><tspan font-size="14" dy="4" dx="0.5">s</tspan></text>
<rect x="632.8" y="42.8" width="45.7" height="57.3" fill="#fff" stroke="#000" stroke-width="1.3"/>
<rect x="641.0" y="50.7" width="7.2" height="7.2" fill="none" stroke="#000" stroke-width="1.2"/>
<circle cx="644.6" cy="71.3" r="3.7" fill="none" stroke="#000" stroke-width="1.2"/>
<polygon points="645.00,83.90 649.50,88.50 645.00,93.10 640.50,88.50" fill="none" stroke="#000" stroke-width="1.2"/>
<text x="657.2" y="61.2" font-size="17.2" text-anchor="start" font-style="italic" fill="#000">G</text>
<text x="657.2" y="77.9" font-size="17.2" text-anchor="start" font-style="italic" fill="#000">B</text>
<text x="658.6" y="95.2" font-size="17.2" text-anchor="start" font-style="italic" fill="#000">F</text>
<line x1="475.7" y1="125.3" x2="475.7" y2="147.7" stroke="#000" stroke-width="1.3"/>
<line x1="472.59999999999997" y1="125.3" x2="478.8" y2="125.3" stroke="#000" stroke-width="1.3"/>
<line x1="472.59999999999997" y1="147.7" x2="478.8" y2="147.7" stroke="#000" stroke-width="1.3"/>
<polygon points="475.70,131.15 483.05,138.00 475.70,144.85 468.35,138.00" fill="#fff" stroke="#000" stroke-width="1.3"/>
<rect x="470.15" y="132.45" width="11.1" height="11.1" fill="#fff" stroke="#000" stroke-width="1.3"/>
<line x1="475.7" y1="162.4" x2="475.7" y2="172.4" stroke="#000" stroke-width="1.3"/>
<line x1="472.59999999999997" y1="162.4" x2="478.8" y2="162.4" stroke="#000" stroke-width="1.3"/>
<line x1="472.59999999999997" y1="172.4" x2="478.8" y2="172.4" stroke="#000" stroke-width="1.3"/>
<circle cx="475.7" cy="162.40" r="6.8" fill="#000"/>
<line x1="536.4" y1="159.4" x2="536.4" y2="180" stroke="#00dcff" stroke-width="1.3"/>
<line x1="533.3" y1="159.4" x2="539.5" y2="159.4" stroke="#00dcff" stroke-width="1.3"/>
<line x1="533.3" y1="180" x2="539.5" y2="180" stroke="#00dcff" stroke-width="1.3"/>
<rect x="530.20" y="174.00" width="12.4" height="12.4" fill="#00dcff"/>
<line x1="536.4" y1="190.9" x2="536.4" y2="214.3" stroke="#00dcff" stroke-width="1.3"/>
<line x1="533.3" y1="190.9" x2="539.5" y2="190.9" stroke="#00dcff" stroke-width="1.3"/>
<line x1="533.3" y1="214.3" x2="539.5" y2="214.3" stroke="#00dcff" stroke-width="1.3"/>
<circle cx="536.4" cy="202.00" r="6.8" fill="#00dcff"/>
<polygon points="536.40,198.80 544.40,206.30 536.40,213.80 528.40,206.30" fill="#00dcff" stroke="none" stroke-width="1.2"/>
<line x1="580.3" y1="159.4" x2="580.3" y2="178" stroke="#00a5ff" stroke-width="1.3"/>
<line x1="577.1999999999999" y1="159.4" x2="583.4" y2="159.4" stroke="#00a5ff" stroke-width="1.3"/>
<line x1="577.1999999999999" y1="178" x2="583.4" y2="178" stroke="#00a5ff" stroke-width="1.3"/>
<polygon points="580.30,170.30 588.30,177.80 580.30,185.30 572.30,177.80" fill="#00a5ff" stroke="none" stroke-width="1.2"/>
<line x1="580.3" y1="183.0" x2="580.3" y2="192.1" stroke="#00a5ff" stroke-width="1.3"/>
<line x1="577.1999999999999" y1="183.0" x2="583.4" y2="183.0" stroke="#00a5ff" stroke-width="1.3"/>
<line x1="577.1999999999999" y1="192.1" x2="583.4" y2="192.1" stroke="#00a5ff" stroke-width="1.3"/>
<circle cx="580.3" cy="183.30" r="6.8" fill="#00a5ff"/>
<rect x="574.10" y="219.10" width="12.4" height="12.4" fill="#00a5ff"/>
<line x1="624.3" y1="114.6" x2="624.3" y2="132.9" stroke="#0a5aff" stroke-width="1.3"/>
<line x1="621.1999999999999" y1="114.6" x2="627.4" y2="114.6" stroke="#0a5aff" stroke-width="1.3"/>
<line x1="621.1999999999999" y1="132.9" x2="627.4" y2="132.9" stroke="#0a5aff" stroke-width="1.3"/>
<polygon points="624.30,126.45 631.25,132.90 624.30,139.35 617.35,132.90" fill="#fff" stroke="#0a5aff" stroke-width="1.3"/>
<line x1="624.3" y1="156.1" x2="624.3" y2="200.1" stroke="#0a5aff" stroke-width="1.3"/>
<line x1="621.1999999999999" y1="156.1" x2="627.4" y2="156.1" stroke="#0a5aff" stroke-width="1.3"/>
<line x1="621.1999999999999" y1="200.1" x2="627.4" y2="200.1" stroke="#0a5aff" stroke-width="1.3"/>
<circle cx="624.3" cy="156.10" r="5.8" fill="#fff" stroke="#0a5aff" stroke-width="1.3"/>
<rect x="618.10" y="178.30" width="12.4" height="12.4" fill="#0a5aff"/>
<line x1="668.4" y1="114.6" x2="668.4" y2="179.6" stroke="#1a1aff" stroke-width="1.3"/>
<line x1="665.3" y1="114.6" x2="671.5" y2="114.6" stroke="#1a1aff" stroke-width="1.3"/>
<line x1="665.3" y1="179.6" x2="671.5" y2="179.6" stroke="#1a1aff" stroke-width="1.3"/>
<circle cx="668.4" cy="133.40" r="5.8" fill="#fff" stroke="#1a1aff" stroke-width="1.3"/>
<polygon points="668.40,142.95 675.75,149.30 668.40,155.65 661.05,149.30" fill="#fff" stroke="#1a1aff" stroke-width="1.3"/>
<rect x="662.85" y="157.25" width="11.1" height="11.1" fill="#fff" stroke="#1a1aff" stroke-width="1.3"/>
<text x="351.5" y="387.4" font-size="28" text-anchor="start" font-weight="bold" fill="#000">d</text>
<line x1="440.3" y1="411.4" x2="440.3" y2="585.6" stroke="#000" stroke-width="1.25"/>
<line x1="434.0" y1="412.0" x2="440.9" y2="412.0" stroke="#000" stroke-width="1.25"/>
<line x1="434.0" y1="498.5" x2="440.9" y2="498.5" stroke="#000" stroke-width="1.25"/>
<line x1="434.0" y1="585.0" x2="440.9" y2="585.0" stroke="#000" stroke-width="1.25"/>
<line x1="440.3" y1="498.5" x2="685" y2="498.5" stroke="#000" stroke-width="1.35" stroke-dasharray="5.8 5"/>
<text x="427.4" y="420.3" font-size="20.6" text-anchor="end" fill="#000">1.0</text>
<text x="427.4" y="506.8" font-size="20.6" text-anchor="end" fill="#000">0</text>
<text x="427.4" y="593.3" font-size="20.6" text-anchor="end" fill="#000">−1.0</text>
<line x1="459.5" y1="598.4000000000001" x2="685" y2="598.4000000000001" stroke="#000" stroke-width="1.25"/>
<line x1="475.7" y1="598.4000000000001" x2="475.7" y2="604.6000000000001" stroke="#000" stroke-width="1.25"/>
<line x1="536.4" y1="598.4000000000001" x2="536.4" y2="604.6000000000001" stroke="#000" stroke-width="1.25"/>
<line x1="580.3" y1="598.4000000000001" x2="580.3" y2="604.6000000000001" stroke="#000" stroke-width="1.25"/>
<line x1="624.3" y1="598.4000000000001" x2="624.3" y2="604.6000000000001" stroke="#000" stroke-width="1.25"/>
<line x1="668.4" y1="598.4000000000001" x2="668.4" y2="604.6000000000001" stroke="#000" stroke-width="1.25"/>
<text x="486.7" y="619.9" font-size="20.0" text-anchor="end" fill="#000" transform="rotate(-45 486.7 619.9)">ERP</text>
<text x="547.4" y="619.9" font-size="19.6" text-anchor="end" fill="#000" transform="rotate(-45 547.4 619.9)">5–8</text>
<text x="591.3" y="619.9" font-size="18.6" text-anchor="end" fill="#000" transform="rotate(-45 591.3 619.9)">8–15</text>
<text x="635.3" y="619.9" font-size="18.0" text-anchor="end" fill="#000" transform="rotate(-45 635.3 619.9)">15–25</text>
<text x="679.4" y="619.9" font-size="18.0" text-anchor="end" fill="#000" transform="rotate(-45 679.4 619.9)">30–40</text>
<line x1="523" y1="659.3" x2="685" y2="659.3" stroke="#000" stroke-width="1.3"/>
<text x="604.4" y="680.4" font-size="20.3" text-anchor="middle" fill="#000">Power</text>
<text x="572.3" y="389.4" font-size="20.3" text-anchor="middle" fill="#000">Long</text>
<text x="0" y="0" font-size="19.9" transform="translate(371.4 498.6) rotate(-90)" text-anchor="middle">Spearman <tspan font-style="italic" dx="1">r</tspan><tspan font-size="14" dy="4" dx="0.5">s</tspan></text>
<line x1="475.7" y1="506.0" x2="475.7" y2="542.3" stroke="#000" stroke-width="1.3"/>
<line x1="472.59999999999997" y1="506.0" x2="478.8" y2="506.0" stroke="#000" stroke-width="1.3"/>
<line x1="472.59999999999997" y1="542.3" x2="478.8" y2="542.3" stroke="#000" stroke-width="1.3"/>
<rect x="469.50" y="510.00" width="12.4" height="12.4" fill="#000"/>
<circle cx="475.7" cy="532.20" r="6.8" fill="#000"/>
<polygon points="475.70,524.70 483.70,532.20 475.70,539.70 467.70,532.20" fill="#000" stroke="none" stroke-width="1.2"/>
<line x1="535.9" y1="499.0" x2="535.9" y2="519.4" stroke="#ffaa00" stroke-width="1.3"/>
<line x1="532.8" y1="499.0" x2="539.0" y2="499.0" stroke="#ffaa00" stroke-width="1.3"/>
<line x1="532.8" y1="519.4" x2="539.0" y2="519.4" stroke="#ffaa00" stroke-width="1.3"/>
<polygon points="535.90,512.75 542.65,519.40 535.90,526.05 529.15,519.40" fill="#fff" stroke="#ffaa00" stroke-width="1.3"/>
<line x1="535.9" y1="526.6" x2="535.9" y2="559.2" stroke="#ffaa00" stroke-width="1.3"/>
<line x1="532.8" y1="526.6" x2="539.0" y2="526.6" stroke="#ffaa00" stroke-width="1.3"/>
<line x1="532.8" y1="559.2" x2="539.0" y2="559.2" stroke="#ffaa00" stroke-width="1.3"/>
<circle cx="535.9" cy="544.70" r="6.8" fill="#ffaa00"/>
<rect x="529.70" y="542.00" width="12.4" height="12.4" fill="#ffaa00"/>
<line x1="580.3" y1="443.5" x2="580.3" y2="469.8" stroke="#ff7a00" stroke-width="1.3"/>
<line x1="577.1999999999999" y1="443.5" x2="583.4" y2="443.5" stroke="#ff7a00" stroke-width="1.3"/>
<line x1="577.1999999999999" y1="469.8" x2="583.4" y2="469.8" stroke="#ff7a00" stroke-width="1.3"/>
<polygon points="580.30,449.10 588.30,456.60 580.30,464.10 572.30,456.60" fill="#ff7a00" stroke="none" stroke-width="1.2"/>
<line x1="580.3" y1="532.3" x2="580.3" y2="562.2" stroke="#ff7a00" stroke-width="1.3"/>
<line x1="577.1999999999999" y1="532.3" x2="583.4" y2="532.3" stroke="#ff7a00" stroke-width="1.3"/>
<line x1="577.1999999999999" y1="562.2" x2="583.4" y2="562.2" stroke="#ff7a00" stroke-width="1.3"/>
<circle cx="580.3" cy="547.10" r="6.8" fill="#ff7a00"/>
<rect x="574.10" y="570.30" width="12.4" height="12.4" fill="#ff7a00"/>
<line x1="624.3" y1="449.4" x2="624.3" y2="484.6" stroke="#ff5000" stroke-width="1.3"/>
<line x1="621.1999999999999" y1="449.4" x2="627.4" y2="449.4" stroke="#ff5000" stroke-width="1.3"/>
<line x1="621.1999999999999" y1="484.6" x2="627.4" y2="484.6" stroke="#ff5000" stroke-width="1.3"/>
<polygon points="624.30,459.80 632.30,467.30 624.30,474.80 616.30,467.30" fill="#ff5000" stroke="none" stroke-width="1.2"/>
<line x1="624.3" y1="502.2" x2="624.3" y2="559.1" stroke="#ff5000" stroke-width="1.3"/>
<line x1="621.1999999999999" y1="502.2" x2="627.4" y2="502.2" stroke="#ff5000" stroke-width="1.3"/>
<line x1="621.1999999999999" y1="559.1" x2="627.4" y2="559.1" stroke="#ff5000" stroke-width="1.3"/>
<circle cx="624.3" cy="521.50" r="6.8" fill="#ff5000"/>
<rect x="618.10" y="536.30" width="12.4" height="12.4" fill="#ff5000"/>
<line x1="668.2" y1="463.6" x2="668.2" y2="484.2" stroke="#ff0f1e" stroke-width="1.3"/>
<line x1="665.1" y1="463.6" x2="671.3000000000001" y2="463.6" stroke="#ff0f1e" stroke-width="1.3"/>
<line x1="665.1" y1="484.2" x2="671.3000000000001" y2="484.2" stroke="#ff0f1e" stroke-width="1.3"/>
<circle cx="668.2" cy="484.20" r="5.8" fill="#fff" stroke="#ff0f1e" stroke-width="1.3"/>
<line x1="668.2" y1="497.5" x2="668.2" y2="536.3" stroke="#ff0f1e" stroke-width="1.3"/>
<line x1="665.1" y1="497.5" x2="671.3000000000001" y2="497.5" stroke="#ff0f1e" stroke-width="1.3"/>
<line x1="665.1" y1="536.3" x2="671.3000000000001" y2="536.3" stroke="#ff0f1e" stroke-width="1.3"/>
<polygon points="668.20,505.05 675.15,511.40 668.20,517.75 661.25,511.40" fill="#fff" stroke="#ff0f1e" stroke-width="1.3"/>
<rect x="662.65" y="505.85" width="11.1" height="11.1" fill="#fff" stroke="#ff0f1e" stroke-width="1.3"/>
</svg></body></html>
